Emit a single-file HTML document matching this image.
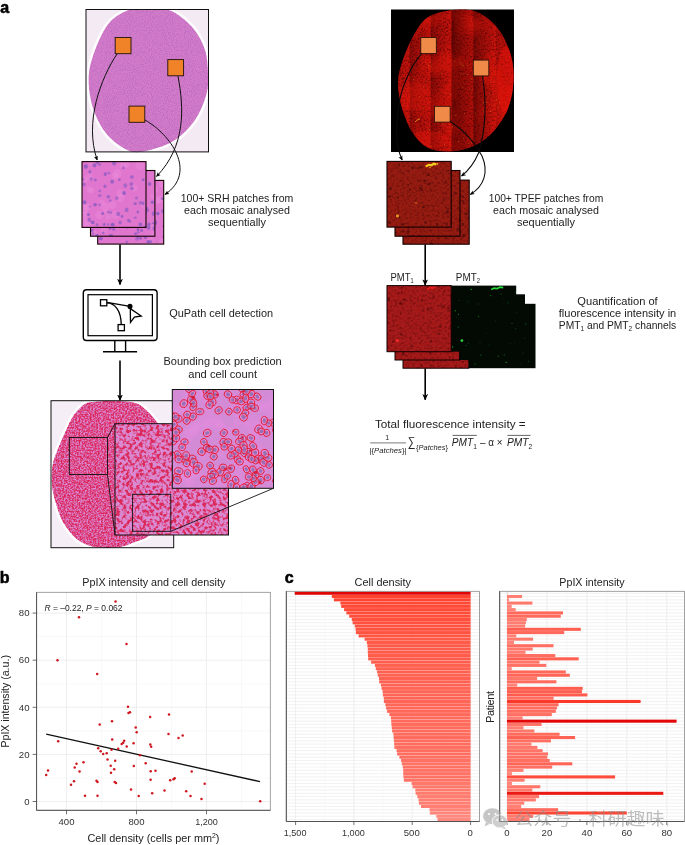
<!DOCTYPE html>
<html><head><meta charset="utf-8"><title>Figure</title>
<style>
html,body{margin:0;padding:0;background:#fff;}
body{width:685px;height:845px;overflow:hidden;position:relative;font-family:'Liberation Sans', 'Noto Sans CJK SC', sans-serif;}
svg{position:absolute;left:0;top:0;display:block;}
svg text{font-family:'Liberation Sans', 'Noto Sans CJK SC', sans-serif;}
</style></head><body>
<svg width="685" height="845" viewBox="0 0 685 845">
<defs>
<marker id="ah" viewBox="0 0 10 10" refX="9" refY="5" markerWidth="6.4" markerHeight="6.4" markerUnits="userSpaceOnUse" orient="auto"><path d="M0,0.5 L10,5 L0,9.5 L2.5,5 Z" fill="#000"/></marker>
<marker id="ahs" viewBox="0 0 10 10" refX="9" refY="5" markerWidth="4.6" markerHeight="4.6" markerUnits="userSpaceOnUse" orient="auto"><path d="M0,0.5 L10,5 L0,9.5 L2.5,5 Z" fill="#000"/></marker>
<filter id="nzA" x="0" y="0" width="100%" height="100%" color-interpolation-filters="sRGB"><feTurbulence type="fractalNoise" baseFrequency="0.95" numOctaves="2" seed="3"/><feColorMatrix type="matrix" values="0 0 0 0 0.66  0 0 0 0 0.34  0 0 0 0 0.72  3 0 0 0 -1.25"/></filter>
<filter id="nzA2" x="0" y="0" width="100%" height="100%" color-interpolation-filters="sRGB"><feTurbulence type="fractalNoise" baseFrequency="0.06" numOctaves="2" seed="9"/><feColorMatrix type="matrix" values="0 0 0 0 0.93  0 0 0 0 0.55  0 0 0 0 0.88  3 0 0 0 -1.3"/></filter>
<filter id="nzR" x="0" y="0" width="100%" height="100%" color-interpolation-filters="sRGB"><feTurbulence type="fractalNoise" baseFrequency="0.55" numOctaves="3" seed="5"/><feColorMatrix type="matrix" values="0 0 0 0 0.25  0 0 0 0 0  0 0 0 0 0  3.5 0 0 0 -1.6"/></filter>
<filter id="nzRb" x="0" y="0" width="100%" height="100%" color-interpolation-filters="sRGB"><feTurbulence type="fractalNoise" baseFrequency="0.035" numOctaves="2" seed="14"/><feColorMatrix type="matrix" values="0 0 0 0 0.95  0 0 0 0 0.1  0 0 0 0 0.05  4 0 0 0 -1.7"/></filter>
<filter id="nzR2" x="0" y="0" width="100%" height="100%" color-interpolation-filters="sRGB"><feTurbulence type="fractalNoise" baseFrequency="0.4" numOctaves="3" seed="11"/><feColorMatrix type="matrix" values="0 0 0 0 0.28  0 0 0 0 0.02  0 0 0 0 0.02  2.6 0 0 0 -1.2"/></filter>
<filter id="nzD" x="0" y="0" width="100%" height="100%" color-interpolation-filters="sRGB"><feTurbulence type="fractalNoise" baseFrequency="0.62" numOctaves="3" seed="8"/><feColorMatrix type="matrix" values="0 0 0 0 0.86  0 0 0 0 0.15  0 0 0 0 0.35  2.6 0 0 0 -0.74"/><feGaussianBlur stdDeviation="0.45"/></filter>
<filter id="nzD2" x="0" y="0" width="100%" height="100%" color-interpolation-filters="sRGB"><feTurbulence type="fractalNoise" baseFrequency="0.30" numOctaves="2" seed="21"/><feColorMatrix type="matrix" values="0 0 0 0 0.86  0 0 0 0 0.16  0 0 0 0 0.35  5 0 0 0 -2.2"/><feGaussianBlur stdDeviation="0.55"/></filter>
<linearGradient id="bandg" x1="0" y1="0" x2="1" y2="0"><stop offset="0" stop-color="#2a0000" stop-opacity="1"/><stop offset="0.25" stop-color="#2a0000" stop-opacity="0.6"/><stop offset="0.9" stop-color="#2a0000" stop-opacity="0"/></linearGradient>
<clipPath id="cpA"><path id="blobA" d="M127.5,10.5 C133.8,7.9 137.9,9.5 145.0,9.5 C152.1,9.5 162.1,7.5 170.0,10.5 C177.9,13.5 186.7,20.9 192.5,27.5 C198.3,34.1 202.4,42.1 205.0,50.0 C207.6,57.9 207.8,67.5 208.0,75.0 C208.2,82.5 208.4,87.5 206.2,95.0 C204.0,102.5 200.2,112.5 195.0,120.0 C189.8,127.5 182.5,135.0 175.0,140.0 C167.5,145.0 157.5,148.1 150.0,150.0 C142.5,151.9 137.1,153.7 130.0,151.2 C122.9,148.7 113.5,141.9 107.5,135.0 C101.5,128.1 96.8,118.8 93.7,110.0 C90.6,101.2 88.9,91.2 88.7,82.5 C88.5,73.8 89.4,67.1 92.5,57.5 C95.6,47.9 101.7,32.8 107.5,25.0 C113.3,17.2 121.2,13.1 127.5,10.5 Z"/></clipPath>
<clipPath id="cpBoxA"><rect x="86" y="9.5" width="122.5" height="142.4"/></clipPath>
<clipPath id="cpR"><path id="blobR" d="M452.5,10.0 C460.4,8.9 468.3,9.1 475.0,11.2 C481.7,13.3 487.5,17.7 492.5,22.5 C497.5,27.3 501.7,33.3 505.0,40.0 C508.3,46.7 511.2,54.6 512.5,62.5 C513.8,70.4 514.0,79.2 513.0,87.5 C511.9,95.8 510.0,104.6 506.2,112.5 C502.4,120.4 496.0,129.2 490.0,135.0 C484.0,140.8 477.1,144.8 470.0,147.5 C462.9,150.2 454.6,151.5 447.5,151.5 C440.4,151.5 433.3,150.7 427.5,147.5 C421.7,144.3 416.7,138.8 412.5,132.5 C408.3,126.2 404.9,117.9 402.5,110.0 C400.1,102.1 398.2,92.5 398.0,85.0 C397.8,77.5 398.8,72.9 401.2,65.0 C403.6,57.1 408.1,45.4 412.5,37.5 C416.9,29.6 420.8,22.1 427.5,17.5 C434.2,12.9 444.6,11.1 452.5,10.0 Z"/></clipPath>
<clipPath id="cpBoxR"><rect x="391" y="9.5" width="123" height="142.5"/></clipPath>
<clipPath id="cpBoxD"><rect x="51" y="400.7" width="122.7" height="147"/></clipPath>
<clipPath id="cpD"><path id="blobD" d="M92.3,402.0 C97.5,401.3 106.9,400.8 114.0,401.0 C121.1,401.2 129.7,401.5 135.0,403.0 C140.3,404.5 142.5,407.0 146.0,410.0 C149.5,413.0 152.0,416.0 156.0,421.0 C160.0,426.0 166.2,432.7 170.0,440.0 C173.8,447.3 177.7,456.3 179.0,465.0 C180.3,473.7 179.8,483.5 178.0,492.0 C176.2,500.5 172.7,508.8 168.0,516.0 C163.3,523.2 155.5,530.7 150.0,535.0 C144.5,539.3 139.7,540.1 135.0,542.0 C130.3,543.9 126.6,545.5 122.0,546.5 C117.4,547.5 112.5,548.0 107.5,548.0 C102.5,548.0 97.0,547.7 92.3,546.5 C87.6,545.3 82.9,543.3 79.1,540.8 C75.3,538.3 72.4,534.9 69.6,531.4 C66.8,527.9 64.2,524.4 62.0,520.0 C59.8,515.6 58.0,509.9 56.4,504.8 C54.8,499.8 53.4,494.8 52.6,489.7 C51.8,484.6 51.6,479.2 51.8,474.5 C51.9,469.8 52.3,466.0 53.5,461.3 C54.7,456.6 57.2,451.2 59.2,446.1 C61.2,441.1 63.4,436.1 65.8,431.0 C68.2,425.9 70.6,420.1 73.4,415.8 C76.2,411.5 79.8,407.7 82.9,405.4 C86.1,403.1 87.1,402.7 92.3,402.0 Z"/></clipPath>
<clipPath id="cpM"><rect x="115" y="423.7" width="113.5" height="111.3"/></clipPath>
<clipPath id="cpT"><rect x="172.3" y="389.5" width="101.2" height="98.8"/></clipPath>
</defs>

<text x="0.3" y="12.8" font-size="16" text-anchor="start" fill="#000" font-weight="bold" stroke="#000" stroke-width="0.55">a</text>
<text x="-0.3" y="583.2" font-size="16" text-anchor="start" fill="#000" font-weight="bold" stroke="#000" stroke-width="0.55">b</text>
<text x="284.8" y="583.2" font-size="16" text-anchor="start" fill="#000" font-weight="bold" stroke="#000" stroke-width="0.55">c</text>
<g id="srh-mosaic">
<rect x="86" y="9.5" width="122.5" height="142.4" fill="#f4eaf4"/>
<g clip-path="url(#cpBoxA)"><use href="#blobA" fill="none" stroke="#fff" stroke-width="5" opacity="0.9"/>
<use href="#blobA" fill="#d37dca"/></g>
<g clip-path="url(#cpA)"><rect x="86" y="9" width="124" height="144" filter="url(#nzA)" opacity="0.45"/></g>
<rect x="86" y="9.5" width="122.5" height="142.4" fill="none" stroke="#111" stroke-width="1"/>
<rect x="115.2" y="37.5" width="15.8" height="16.2" fill="#f08228" stroke="#201008" stroke-width="0.9"/>
<rect x="167.8" y="59.6" width="15.8" height="16.2" fill="#f08228" stroke="#201008" stroke-width="0.9"/>
<rect x="129" y="106.1" width="15.8" height="16.2" fill="#f08228" stroke="#201008" stroke-width="0.9"/>
</g>
<g fill="none" stroke="#111" stroke-width="1">
<path d="M117,54 C101,78 84,122 97.2,160" marker-end="url(#ahs)"/>
<path d="M178,76.2 C184,108 186,146 156.5,176.5" marker-end="url(#ahs)"/>
<path d="M145,120 C170,134 198,172 165,194.5" marker-end="url(#ahs)"/>
</g>
<g id="srh-patches">
<clipPath id="cpS0"><rect x="97.7" y="180.4" width="66.0" height="63.7"/></clipPath>
<rect x="97.7" y="180.4" width="66.0" height="63.7" fill="#e176cf"/>
<g clip-path="url(#cpS0)">
<circle cx="135.4" cy="207.7" r="3.9" fill="#ec8fdc" opacity="0.4"/>
<circle cx="111.3" cy="232.2" r="4.6" fill="#ec8fdc" opacity="0.4"/>
<circle cx="140.8" cy="190.6" r="3.8" fill="#ec8fdc" opacity="0.4"/>
<circle cx="119.3" cy="196.3" r="4.9" fill="#ec8fdc" opacity="0.4"/>
<circle cx="163.5" cy="183.2" r="4.7" fill="#ec8fdc" opacity="0.4"/>
<circle cx="137.5" cy="204.7" r="3.2" fill="#ec8fdc" opacity="0.4"/>
<circle cx="142.2" cy="209.5" r="4.2" fill="#ec8fdc" opacity="0.4"/>
<circle cx="141.4" cy="188.9" r="4.4" fill="#ec8fdc" opacity="0.4"/>
<circle cx="162.5" cy="242.2" r="4.0" fill="#ec8fdc" opacity="0.4"/>
<circle cx="100.6" cy="180.7" r="2.8" fill="#ec8fdc" opacity="0.4"/>
<circle cx="159.8" cy="199.7" r="3.4" fill="#ec8fdc" opacity="0.4"/>
<circle cx="157.0" cy="200.4" r="3.9" fill="#ec8fdc" opacity="0.4"/>
<circle cx="126.5" cy="184.5" r="4.0" fill="#ec8fdc" opacity="0.4"/>
<circle cx="153.4" cy="190.4" r="3.1" fill="#ec8fdc" opacity="0.4"/>
<circle cx="124.9" cy="182.8" r="3.7" fill="#ec8fdc" opacity="0.4"/>
<circle cx="151.7" cy="222.3" r="3.8" fill="#ec8fdc" opacity="0.4"/>
<circle cx="154.1" cy="189.9" r="3.9" fill="#ec8fdc" opacity="0.4"/>
<circle cx="122.4" cy="218.7" r="2.8" fill="#ec8fdc" opacity="0.4"/>
<circle cx="148.9" cy="186.6" r="2.9" fill="#ec8fdc" opacity="0.4"/>
<circle cx="151.0" cy="240.8" r="3.6" fill="#ec8fdc" opacity="0.4"/>
<circle cx="125.0" cy="196.0" r="3.2" fill="#ec8fdc" opacity="0.4"/>
<circle cx="138.4" cy="191.8" r="2.8" fill="#ec8fdc" opacity="0.4"/>
<circle cx="127.8" cy="190.9" r="4.1" fill="#ec8fdc" opacity="0.4"/>
<circle cx="151.9" cy="229.9" r="3.7" fill="#ec8fdc" opacity="0.4"/>
<circle cx="120.6" cy="208.1" r="2.5" fill="#ec8fdc" opacity="0.4"/>
<circle cx="144.7" cy="201.5" r="3.3" fill="#ec8fdc" opacity="0.4"/>
<ellipse cx="103.0" cy="208.9" rx="1.9" ry="2.0" fill="#8c5cc2" opacity="0.65"/>
<ellipse cx="136.2" cy="205.3" rx="1.4" ry="1.2" fill="#8c5cc2" opacity="0.58"/>
<ellipse cx="155.1" cy="223.3" rx="1.9" ry="2.3" fill="#8c5cc2" opacity="0.63"/>
<ellipse cx="113.6" cy="213.9" rx="1.9" ry="2.3" fill="#8c5cc2" opacity="0.62"/>
<ellipse cx="157.8" cy="213.5" rx="1.7" ry="1.7" fill="#8c5cc2" opacity="0.89"/>
<ellipse cx="137.4" cy="184.4" rx="2.0" ry="1.6" fill="#8c5cc2" opacity="0.62"/>
<ellipse cx="130.0" cy="209.8" rx="2.0" ry="2.1" fill="#8c5cc2" opacity="0.73"/>
<ellipse cx="124.2" cy="207.2" rx="1.9" ry="2.2" fill="#8c5cc2" opacity="0.88"/>
<ellipse cx="136.3" cy="214.7" rx="1.5" ry="1.2" fill="#8c5cc2" opacity="0.79"/>
<ellipse cx="130.0" cy="191.0" rx="1.2" ry="1.3" fill="#8c5cc2" opacity="0.85"/>
<ellipse cx="126.8" cy="242.1" rx="1.6" ry="1.7" fill="#8c5cc2" opacity="0.61"/>
<ellipse cx="125.1" cy="182.6" rx="1.3" ry="1.4" fill="#8c5cc2" opacity="0.85"/>
<ellipse cx="97.9" cy="214.5" rx="2.1" ry="1.7" fill="#8c5cc2" opacity="0.87"/>
<ellipse cx="101.0" cy="186.3" rx="1.7" ry="1.6" fill="#8c5cc2" opacity="0.69"/>
<ellipse cx="104.9" cy="209.3" rx="1.7" ry="1.6" fill="#8c5cc2" opacity="0.60"/>
<ellipse cx="163.2" cy="211.3" rx="2.0" ry="2.2" fill="#8c5cc2" opacity="0.76"/>
<ellipse cx="128.0" cy="208.2" rx="1.9" ry="2.3" fill="#8c5cc2" opacity="0.61"/>
<ellipse cx="130.8" cy="208.9" rx="1.9" ry="2.3" fill="#8c5cc2" opacity="0.67"/>
<ellipse cx="145.6" cy="237.6" rx="1.7" ry="1.7" fill="#8c5cc2" opacity="0.62"/>
<ellipse cx="143.8" cy="207.4" rx="1.6" ry="1.4" fill="#8c5cc2" opacity="0.88"/>
<ellipse cx="140.6" cy="238.3" rx="1.4" ry="1.5" fill="#8c5cc2" opacity="0.75"/>
<ellipse cx="107.8" cy="195.5" rx="2.1" ry="2.4" fill="#8c5cc2" opacity="0.68"/>
<ellipse cx="138.6" cy="224.2" rx="1.5" ry="1.3" fill="#8c5cc2" opacity="0.57"/>
<ellipse cx="140.1" cy="217.9" rx="1.5" ry="1.8" fill="#8c5cc2" opacity="0.57"/>
<ellipse cx="152.4" cy="210.9" rx="1.4" ry="1.5" fill="#8c5cc2" opacity="0.68"/>
<ellipse cx="151.0" cy="241.7" rx="1.4" ry="1.7" fill="#8c5cc2" opacity="0.56"/>
<ellipse cx="126.4" cy="235.1" rx="1.7" ry="1.7" fill="#8c5cc2" opacity="0.67"/>
<ellipse cx="145.1" cy="237.0" rx="1.4" ry="1.2" fill="#8c5cc2" opacity="0.69"/>
<ellipse cx="100.8" cy="238.6" rx="1.9" ry="1.9" fill="#8c5cc2" opacity="0.82"/>
<ellipse cx="148.3" cy="241.7" rx="2.0" ry="1.7" fill="#8c5cc2" opacity="0.86"/>
<ellipse cx="162.5" cy="198.6" rx="1.7" ry="1.7" fill="#8c5cc2" opacity="0.73"/>
<ellipse cx="141.9" cy="189.4" rx="2.0" ry="2.0" fill="#8c5cc2" opacity="0.58"/>
<ellipse cx="137.0" cy="239.0" rx="2.1" ry="1.8" fill="#8c5cc2" opacity="0.59"/>
<ellipse cx="110.4" cy="202.7" rx="1.8" ry="1.7" fill="#8c5cc2" opacity="0.65"/>
<ellipse cx="103.0" cy="192.8" rx="1.8" ry="2.1" fill="#8c5cc2" opacity="0.67"/>
<ellipse cx="111.4" cy="186.5" rx="2.0" ry="2.2" fill="#8c5cc2" opacity="0.76"/>
<ellipse cx="163.7" cy="236.9" rx="1.7" ry="1.4" fill="#8c5cc2" opacity="0.61"/>
<ellipse cx="128.3" cy="227.8" rx="1.8" ry="2.0" fill="#8c5cc2" opacity="0.58"/>
<ellipse cx="143.6" cy="213.7" rx="1.8" ry="1.8" fill="#8c5cc2" opacity="0.75"/>
<ellipse cx="125.7" cy="222.7" rx="1.6" ry="1.4" fill="#8c5cc2" opacity="0.67"/>
<ellipse cx="134.4" cy="197.3" rx="2.1" ry="1.8" fill="#8c5cc2" opacity="0.85"/>
<ellipse cx="121.7" cy="220.4" rx="1.7" ry="1.4" fill="#8c5cc2" opacity="0.83"/>
<ellipse cx="139.1" cy="193.8" rx="1.2" ry="1.4" fill="#8c5cc2" opacity="0.67"/>
<ellipse cx="137.9" cy="236.1" rx="2.0" ry="2.3" fill="#8c5cc2" opacity="0.68"/>
<ellipse cx="155.2" cy="221.9" rx="1.8" ry="2.2" fill="#8c5cc2" opacity="0.61"/>
<ellipse cx="102.3" cy="207.4" rx="1.4" ry="1.3" fill="#8c5cc2" opacity="0.84"/>
<ellipse cx="103.6" cy="183.9" rx="1.4" ry="1.3" fill="#8c5cc2" opacity="0.77"/>
<ellipse cx="114.5" cy="209.5" rx="1.7" ry="1.7" fill="#8c5cc2" opacity="0.74"/>
<ellipse cx="147.8" cy="220.5" rx="1.2" ry="1.0" fill="#8c5cc2" opacity="0.56"/>
<ellipse cx="116.3" cy="224.7" rx="1.2" ry="1.4" fill="#8c5cc2" opacity="0.89"/>
<ellipse cx="131.1" cy="212.7" rx="1.3" ry="1.3" fill="#8c5cc2" opacity="0.56"/>
<ellipse cx="115.1" cy="208.5" rx="1.6" ry="1.7" fill="#8c5cc2" opacity="0.77"/>
<ellipse cx="120.2" cy="226.7" rx="2.0" ry="2.1" fill="#8c5cc2" opacity="0.57"/>
<ellipse cx="129.6" cy="208.9" rx="1.5" ry="1.5" fill="#8c5cc2" opacity="0.67"/>
<ellipse cx="129.2" cy="211.0" rx="1.2" ry="1.3" fill="#8c5cc2" opacity="0.72"/>
<ellipse cx="143.2" cy="226.3" rx="1.8" ry="1.8" fill="#8c5cc2" opacity="0.57"/>
<ellipse cx="150.6" cy="206.2" rx="1.4" ry="1.3" fill="#8c5cc2" opacity="0.71"/>
<ellipse cx="150.1" cy="241.9" rx="1.3" ry="1.1" fill="#8c5cc2" opacity="0.73"/>
<ellipse cx="163.2" cy="226.3" rx="1.3" ry="1.1" fill="#8c5cc2" opacity="0.59"/>
<ellipse cx="102.0" cy="234.4" rx="1.8" ry="2.1" fill="#8c5cc2" opacity="0.83"/>
<ellipse cx="152.9" cy="181.4" rx="1.7" ry="1.9" fill="#8c5cc2" opacity="0.81"/>
<ellipse cx="119.3" cy="200.9" rx="1.6" ry="1.6" fill="#8c5cc2" opacity="0.80"/>
</g>
<rect x="97.7" y="180.4" width="66.0" height="63.7" fill="none" stroke="#100" stroke-width="1.1"/>
<clipPath id="cpS1"><rect x="90.5" y="170.5" width="64.4" height="65.7"/></clipPath>
<rect x="90.5" y="170.5" width="64.4" height="65.7" fill="#e176cf"/>
<g clip-path="url(#cpS1)">
<circle cx="119.6" cy="207.3" r="4.8" fill="#ec8fdc" opacity="0.4"/>
<circle cx="120.5" cy="203.9" r="4.0" fill="#ec8fdc" opacity="0.4"/>
<circle cx="102.4" cy="204.1" r="4.1" fill="#ec8fdc" opacity="0.4"/>
<circle cx="141.6" cy="176.7" r="3.3" fill="#ec8fdc" opacity="0.4"/>
<circle cx="96.3" cy="223.7" r="4.2" fill="#ec8fdc" opacity="0.4"/>
<circle cx="93.2" cy="235.0" r="4.9" fill="#ec8fdc" opacity="0.4"/>
<circle cx="132.6" cy="210.9" r="2.9" fill="#ec8fdc" opacity="0.4"/>
<circle cx="91.5" cy="205.2" r="2.6" fill="#ec8fdc" opacity="0.4"/>
<circle cx="102.7" cy="186.4" r="2.6" fill="#ec8fdc" opacity="0.4"/>
<circle cx="120.4" cy="199.4" r="4.6" fill="#ec8fdc" opacity="0.4"/>
<circle cx="123.9" cy="212.6" r="3.7" fill="#ec8fdc" opacity="0.4"/>
<circle cx="133.2" cy="200.5" r="3.2" fill="#ec8fdc" opacity="0.4"/>
<circle cx="154.7" cy="235.9" r="4.6" fill="#ec8fdc" opacity="0.4"/>
<circle cx="136.1" cy="191.2" r="3.1" fill="#ec8fdc" opacity="0.4"/>
<circle cx="109.1" cy="175.1" r="4.4" fill="#ec8fdc" opacity="0.4"/>
<circle cx="116.3" cy="226.1" r="3.5" fill="#ec8fdc" opacity="0.4"/>
<circle cx="152.2" cy="226.2" r="2.5" fill="#ec8fdc" opacity="0.4"/>
<circle cx="104.0" cy="230.3" r="3.7" fill="#ec8fdc" opacity="0.4"/>
<circle cx="153.6" cy="196.6" r="2.7" fill="#ec8fdc" opacity="0.4"/>
<circle cx="131.0" cy="221.6" r="3.2" fill="#ec8fdc" opacity="0.4"/>
<circle cx="96.1" cy="192.4" r="4.9" fill="#ec8fdc" opacity="0.4"/>
<circle cx="139.3" cy="178.3" r="3.1" fill="#ec8fdc" opacity="0.4"/>
<circle cx="97.0" cy="174.4" r="4.5" fill="#ec8fdc" opacity="0.4"/>
<circle cx="101.9" cy="207.2" r="3.6" fill="#ec8fdc" opacity="0.4"/>
<circle cx="102.8" cy="218.6" r="2.8" fill="#ec8fdc" opacity="0.4"/>
<circle cx="132.0" cy="178.2" r="3.6" fill="#ec8fdc" opacity="0.4"/>
<ellipse cx="104.2" cy="188.2" rx="1.8" ry="2.1" fill="#8c5cc2" opacity="0.64"/>
<ellipse cx="153.0" cy="223.3" rx="1.2" ry="1.1" fill="#8c5cc2" opacity="0.79"/>
<ellipse cx="110.1" cy="228.6" rx="1.4" ry="1.2" fill="#8c5cc2" opacity="0.87"/>
<ellipse cx="104.1" cy="196.4" rx="1.8" ry="1.8" fill="#8c5cc2" opacity="0.86"/>
<ellipse cx="145.5" cy="212.7" rx="1.5" ry="1.6" fill="#8c5cc2" opacity="0.62"/>
<ellipse cx="97.0" cy="235.5" rx="1.6" ry="1.8" fill="#8c5cc2" opacity="0.87"/>
<ellipse cx="104.2" cy="187.5" rx="2.0" ry="1.9" fill="#8c5cc2" opacity="0.75"/>
<ellipse cx="140.3" cy="192.1" rx="1.5" ry="1.3" fill="#8c5cc2" opacity="0.72"/>
<ellipse cx="109.6" cy="175.3" rx="2.0" ry="2.3" fill="#8c5cc2" opacity="0.80"/>
<ellipse cx="96.3" cy="208.8" rx="2.1" ry="1.9" fill="#8c5cc2" opacity="0.61"/>
<ellipse cx="106.2" cy="210.0" rx="1.6" ry="1.5" fill="#8c5cc2" opacity="0.62"/>
<ellipse cx="114.4" cy="200.3" rx="1.6" ry="1.7" fill="#8c5cc2" opacity="0.72"/>
<ellipse cx="152.3" cy="202.3" rx="1.5" ry="1.7" fill="#8c5cc2" opacity="0.89"/>
<ellipse cx="127.5" cy="227.4" rx="1.6" ry="1.3" fill="#8c5cc2" opacity="0.56"/>
<ellipse cx="102.3" cy="180.6" rx="2.0" ry="1.6" fill="#8c5cc2" opacity="0.80"/>
<ellipse cx="149.0" cy="224.2" rx="1.7" ry="1.6" fill="#8c5cc2" opacity="0.83"/>
<ellipse cx="106.6" cy="183.0" rx="1.2" ry="1.0" fill="#8c5cc2" opacity="0.71"/>
<ellipse cx="138.1" cy="232.3" rx="1.2" ry="1.4" fill="#8c5cc2" opacity="0.63"/>
<ellipse cx="103.2" cy="232.9" rx="1.3" ry="1.1" fill="#8c5cc2" opacity="0.77"/>
<ellipse cx="147.3" cy="210.2" rx="1.6" ry="1.7" fill="#8c5cc2" opacity="0.78"/>
<ellipse cx="117.6" cy="177.3" rx="1.9" ry="2.4" fill="#8c5cc2" opacity="0.79"/>
<ellipse cx="93.0" cy="233.7" rx="1.4" ry="1.4" fill="#8c5cc2" opacity="0.61"/>
<ellipse cx="105.9" cy="216.8" rx="1.2" ry="1.2" fill="#8c5cc2" opacity="0.80"/>
<ellipse cx="107.0" cy="224.6" rx="1.4" ry="1.3" fill="#8c5cc2" opacity="0.67"/>
<ellipse cx="128.9" cy="189.8" rx="1.8" ry="1.9" fill="#8c5cc2" opacity="0.77"/>
<ellipse cx="101.8" cy="217.8" rx="1.9" ry="1.8" fill="#8c5cc2" opacity="0.83"/>
<ellipse cx="94.9" cy="185.5" rx="2.0" ry="1.7" fill="#8c5cc2" opacity="0.88"/>
<ellipse cx="126.5" cy="226.5" rx="1.9" ry="1.6" fill="#8c5cc2" opacity="0.71"/>
<ellipse cx="130.1" cy="188.9" rx="1.8" ry="2.1" fill="#8c5cc2" opacity="0.68"/>
<ellipse cx="149.6" cy="183.9" rx="1.7" ry="2.0" fill="#8c5cc2" opacity="0.83"/>
<ellipse cx="91.6" cy="188.2" rx="2.0" ry="2.1" fill="#8c5cc2" opacity="0.78"/>
<ellipse cx="119.2" cy="174.5" rx="1.4" ry="1.6" fill="#8c5cc2" opacity="0.84"/>
<ellipse cx="101.9" cy="194.7" rx="1.8" ry="2.0" fill="#8c5cc2" opacity="0.62"/>
<ellipse cx="127.3" cy="179.1" rx="2.0" ry="2.5" fill="#8c5cc2" opacity="0.89"/>
<ellipse cx="113.8" cy="229.0" rx="1.7" ry="1.9" fill="#8c5cc2" opacity="0.66"/>
<ellipse cx="153.6" cy="213.7" rx="2.0" ry="2.4" fill="#8c5cc2" opacity="0.67"/>
<ellipse cx="135.0" cy="208.9" rx="1.3" ry="1.3" fill="#8c5cc2" opacity="0.74"/>
<ellipse cx="99.5" cy="172.8" rx="1.9" ry="1.9" fill="#8c5cc2" opacity="0.56"/>
<ellipse cx="91.7" cy="230.3" rx="1.9" ry="1.6" fill="#8c5cc2" opacity="0.83"/>
<ellipse cx="135.6" cy="233.8" rx="1.4" ry="1.3" fill="#8c5cc2" opacity="0.83"/>
<ellipse cx="91.9" cy="212.3" rx="1.3" ry="1.1" fill="#8c5cc2" opacity="0.73"/>
<ellipse cx="121.6" cy="218.5" rx="1.9" ry="2.2" fill="#8c5cc2" opacity="0.79"/>
<ellipse cx="111.0" cy="236.2" rx="2.1" ry="2.1" fill="#8c5cc2" opacity="0.88"/>
<ellipse cx="95.3" cy="206.4" rx="1.3" ry="1.1" fill="#8c5cc2" opacity="0.73"/>
<ellipse cx="138.0" cy="229.6" rx="1.5" ry="1.6" fill="#8c5cc2" opacity="0.77"/>
<ellipse cx="138.0" cy="216.7" rx="1.7" ry="2.0" fill="#8c5cc2" opacity="0.75"/>
<ellipse cx="141.6" cy="230.6" rx="1.5" ry="1.4" fill="#8c5cc2" opacity="0.85"/>
<ellipse cx="113.2" cy="215.5" rx="2.0" ry="1.8" fill="#8c5cc2" opacity="0.85"/>
<ellipse cx="148.5" cy="227.7" rx="2.1" ry="2.1" fill="#8c5cc2" opacity="0.75"/>
<ellipse cx="117.4" cy="222.4" rx="1.4" ry="1.4" fill="#8c5cc2" opacity="0.73"/>
<ellipse cx="146.1" cy="208.1" rx="1.7" ry="1.4" fill="#8c5cc2" opacity="0.89"/>
<ellipse cx="130.7" cy="195.6" rx="1.7" ry="1.6" fill="#8c5cc2" opacity="0.83"/>
<ellipse cx="128.0" cy="210.5" rx="1.7" ry="1.7" fill="#8c5cc2" opacity="0.79"/>
<ellipse cx="95.7" cy="212.5" rx="1.3" ry="1.3" fill="#8c5cc2" opacity="0.69"/>
<ellipse cx="154.5" cy="228.3" rx="2.1" ry="2.5" fill="#8c5cc2" opacity="0.64"/>
<ellipse cx="137.4" cy="196.0" rx="1.6" ry="1.4" fill="#8c5cc2" opacity="0.70"/>
<ellipse cx="137.8" cy="208.7" rx="1.9" ry="2.3" fill="#8c5cc2" opacity="0.72"/>
<ellipse cx="118.9" cy="225.6" rx="1.5" ry="1.3" fill="#8c5cc2" opacity="0.77"/>
<ellipse cx="95.9" cy="219.8" rx="2.0" ry="1.7" fill="#8c5cc2" opacity="0.82"/>
<ellipse cx="92.4" cy="210.0" rx="1.2" ry="1.1" fill="#8c5cc2" opacity="0.63"/>
<ellipse cx="121.5" cy="185.6" rx="1.8" ry="1.7" fill="#8c5cc2" opacity="0.67"/>
<ellipse cx="135.5" cy="203.2" rx="1.8" ry="1.5" fill="#8c5cc2" opacity="0.81"/>
</g>
<rect x="90.5" y="170.5" width="64.4" height="65.7" fill="none" stroke="#100" stroke-width="1.1"/>
<clipPath id="cpS2"><rect x="82" y="161.6" width="64" height="65.8"/></clipPath>
<rect x="82" y="161.6" width="64" height="65.8" fill="#e176cf"/>
<g clip-path="url(#cpS2)">
<circle cx="112.4" cy="204.9" r="4.2" fill="#ec8fdc" opacity="0.4"/>
<circle cx="91.1" cy="162.3" r="3.4" fill="#ec8fdc" opacity="0.4"/>
<circle cx="99.5" cy="214.9" r="4.2" fill="#ec8fdc" opacity="0.4"/>
<circle cx="120.5" cy="198.3" r="4.2" fill="#ec8fdc" opacity="0.4"/>
<circle cx="91.3" cy="190.6" r="2.9" fill="#ec8fdc" opacity="0.4"/>
<circle cx="140.0" cy="165.5" r="4.5" fill="#ec8fdc" opacity="0.4"/>
<circle cx="86.8" cy="206.8" r="3.3" fill="#ec8fdc" opacity="0.4"/>
<circle cx="107.9" cy="217.0" r="2.5" fill="#ec8fdc" opacity="0.4"/>
<circle cx="85.9" cy="221.8" r="3.8" fill="#ec8fdc" opacity="0.4"/>
<circle cx="87.8" cy="226.6" r="4.9" fill="#ec8fdc" opacity="0.4"/>
<circle cx="89.2" cy="189.4" r="2.8" fill="#ec8fdc" opacity="0.4"/>
<circle cx="102.0" cy="202.5" r="2.9" fill="#ec8fdc" opacity="0.4"/>
<circle cx="126.6" cy="165.0" r="2.9" fill="#ec8fdc" opacity="0.4"/>
<circle cx="134.2" cy="188.0" r="3.5" fill="#ec8fdc" opacity="0.4"/>
<circle cx="120.1" cy="193.0" r="3.5" fill="#ec8fdc" opacity="0.4"/>
<circle cx="84.0" cy="209.4" r="4.9" fill="#ec8fdc" opacity="0.4"/>
<circle cx="144.5" cy="205.3" r="3.4" fill="#ec8fdc" opacity="0.4"/>
<circle cx="105.2" cy="207.0" r="4.2" fill="#ec8fdc" opacity="0.4"/>
<circle cx="89.3" cy="177.1" r="3.4" fill="#ec8fdc" opacity="0.4"/>
<circle cx="114.7" cy="214.9" r="3.8" fill="#ec8fdc" opacity="0.4"/>
<circle cx="83.8" cy="215.7" r="3.6" fill="#ec8fdc" opacity="0.4"/>
<circle cx="115.2" cy="176.2" r="3.6" fill="#ec8fdc" opacity="0.4"/>
<circle cx="106.8" cy="212.4" r="2.8" fill="#ec8fdc" opacity="0.4"/>
<circle cx="117.2" cy="173.3" r="4.2" fill="#ec8fdc" opacity="0.4"/>
<circle cx="84.4" cy="179.8" r="3.4" fill="#ec8fdc" opacity="0.4"/>
<circle cx="122.8" cy="165.0" r="3.6" fill="#ec8fdc" opacity="0.4"/>
<ellipse cx="95.4" cy="180.1" rx="1.4" ry="1.5" fill="#8c5cc2" opacity="0.72"/>
<ellipse cx="112.5" cy="224.7" rx="1.8" ry="1.6" fill="#8c5cc2" opacity="0.88"/>
<ellipse cx="112.8" cy="224.5" rx="2.0" ry="1.8" fill="#8c5cc2" opacity="0.65"/>
<ellipse cx="92.7" cy="222.4" rx="2.0" ry="1.8" fill="#8c5cc2" opacity="0.88"/>
<ellipse cx="105.3" cy="174.1" rx="1.7" ry="1.9" fill="#8c5cc2" opacity="0.80"/>
<ellipse cx="129.9" cy="221.6" rx="1.4" ry="1.3" fill="#8c5cc2" opacity="0.64"/>
<ellipse cx="82.4" cy="179.3" rx="1.8" ry="2.0" fill="#8c5cc2" opacity="0.60"/>
<ellipse cx="131.3" cy="184.1" rx="2.0" ry="2.0" fill="#8c5cc2" opacity="0.63"/>
<ellipse cx="97.5" cy="162.2" rx="1.6" ry="2.0" fill="#8c5cc2" opacity="0.75"/>
<ellipse cx="84.6" cy="202.3" rx="1.8" ry="2.1" fill="#8c5cc2" opacity="0.89"/>
<ellipse cx="145.0" cy="227.3" rx="1.9" ry="1.9" fill="#8c5cc2" opacity="0.76"/>
<ellipse cx="114.2" cy="163.2" rx="2.0" ry="2.3" fill="#8c5cc2" opacity="0.75"/>
<ellipse cx="102.6" cy="213.4" rx="1.5" ry="1.5" fill="#8c5cc2" opacity="0.81"/>
<ellipse cx="135.2" cy="203.7" rx="1.7" ry="1.4" fill="#8c5cc2" opacity="0.80"/>
<ellipse cx="85.9" cy="166.6" rx="2.0" ry="2.3" fill="#8c5cc2" opacity="0.86"/>
<ellipse cx="94.5" cy="165.3" rx="2.0" ry="2.1" fill="#8c5cc2" opacity="0.83"/>
<ellipse cx="99.7" cy="164.6" rx="1.5" ry="1.3" fill="#8c5cc2" opacity="0.67"/>
<ellipse cx="89.9" cy="171.8" rx="1.5" ry="1.8" fill="#8c5cc2" opacity="0.79"/>
<ellipse cx="91.2" cy="179.1" rx="1.7" ry="1.8" fill="#8c5cc2" opacity="0.59"/>
<ellipse cx="83.9" cy="184.3" rx="1.7" ry="1.9" fill="#8c5cc2" opacity="0.69"/>
<ellipse cx="99.7" cy="190.9" rx="1.4" ry="1.4" fill="#8c5cc2" opacity="0.66"/>
<ellipse cx="99.7" cy="195.5" rx="1.8" ry="1.6" fill="#8c5cc2" opacity="0.58"/>
<ellipse cx="88.5" cy="214.5" rx="1.5" ry="1.6" fill="#8c5cc2" opacity="0.82"/>
<ellipse cx="89.2" cy="219.8" rx="1.8" ry="2.2" fill="#8c5cc2" opacity="0.68"/>
<ellipse cx="99.7" cy="204.7" rx="1.2" ry="1.3" fill="#8c5cc2" opacity="0.71"/>
<ellipse cx="97.1" cy="224.4" rx="1.4" ry="1.5" fill="#8c5cc2" opacity="0.67"/>
<ellipse cx="104.3" cy="224.4" rx="1.4" ry="1.3" fill="#8c5cc2" opacity="0.88"/>
<ellipse cx="108.3" cy="224.4" rx="1.2" ry="1.2" fill="#8c5cc2" opacity="0.65"/>
<ellipse cx="108.9" cy="173.1" rx="1.4" ry="1.4" fill="#8c5cc2" opacity="0.63"/>
<ellipse cx="112.2" cy="181.7" rx="2.0" ry="2.1" fill="#8c5cc2" opacity="0.79"/>
<ellipse cx="123.4" cy="167.9" rx="1.3" ry="1.4" fill="#8c5cc2" opacity="0.76"/>
<ellipse cx="131.9" cy="177.1" rx="2.0" ry="1.8" fill="#8c5cc2" opacity="0.71"/>
<ellipse cx="125.3" cy="185.6" rx="2.0" ry="2.3" fill="#8c5cc2" opacity="0.63"/>
<ellipse cx="131.9" cy="188.3" rx="1.7" ry="1.9" fill="#8c5cc2" opacity="0.69"/>
<ellipse cx="124.0" cy="192.9" rx="1.8" ry="2.0" fill="#8c5cc2" opacity="0.89"/>
<ellipse cx="116.8" cy="198.1" rx="1.7" ry="1.9" fill="#8c5cc2" opacity="0.67"/>
<ellipse cx="108.3" cy="196.8" rx="1.9" ry="1.8" fill="#8c5cc2" opacity="0.72"/>
<ellipse cx="110.2" cy="200.7" rx="1.5" ry="1.4" fill="#8c5cc2" opacity="0.60"/>
<ellipse cx="108.3" cy="211.9" rx="1.4" ry="1.5" fill="#8c5cc2" opacity="0.64"/>
<ellipse cx="110.9" cy="212.6" rx="1.2" ry="1.4" fill="#8c5cc2" opacity="0.65"/>
<ellipse cx="118.1" cy="213.9" rx="2.0" ry="2.2" fill="#8c5cc2" opacity="0.69"/>
<ellipse cx="126.6" cy="209.9" rx="2.0" ry="2.4" fill="#8c5cc2" opacity="0.66"/>
<ellipse cx="122.0" cy="216.5" rx="1.3" ry="1.4" fill="#8c5cc2" opacity="0.84"/>
<ellipse cx="120.1" cy="222.4" rx="1.7" ry="2.0" fill="#8c5cc2" opacity="0.69"/>
<ellipse cx="128.6" cy="220.4" rx="1.8" ry="1.6" fill="#8c5cc2" opacity="0.69"/>
<ellipse cx="136.5" cy="198.1" rx="1.5" ry="1.5" fill="#8c5cc2" opacity="0.69"/>
<ellipse cx="140.4" cy="202.7" rx="1.9" ry="1.7" fill="#8c5cc2" opacity="0.62"/>
<ellipse cx="143.1" cy="203.4" rx="1.4" ry="1.8" fill="#8c5cc2" opacity="0.73"/>
<ellipse cx="137.8" cy="211.9" rx="1.2" ry="1.5" fill="#8c5cc2" opacity="0.86"/>
<ellipse cx="140.4" cy="224.4" rx="1.9" ry="1.9" fill="#8c5cc2" opacity="0.81"/>
<ellipse cx="143.1" cy="179.7" rx="1.5" ry="1.3" fill="#8c5cc2" opacity="0.85"/>
<ellipse cx="95.1" cy="204.7" rx="1.9" ry="1.7" fill="#8c5cc2" opacity="0.86"/>
<ellipse cx="89.9" cy="206.6" rx="1.2" ry="1.1" fill="#8c5cc2" opacity="0.55"/>
<ellipse cx="119.4" cy="179.7" rx="1.4" ry="1.2" fill="#8c5cc2" opacity="0.80"/>
<ellipse cx="135.2" cy="217.8" rx="1.5" ry="1.3" fill="#8c5cc2" opacity="0.61"/>
<ellipse cx="105.0" cy="186.3" rx="1.5" ry="1.8" fill="#8c5cc2" opacity="0.76"/>
</g>
<rect x="82" y="161.6" width="64" height="65.8" fill="none" stroke="#100" stroke-width="1.1"/>
</g>
<text x="237" y="201.7" font-size="11" text-anchor="middle" fill="#222" textLength="112.5" lengthAdjust="spacingAndGlyphs" >100+ SRH patches from</text>
<text x="237" y="213.7" font-size="11" text-anchor="middle" fill="#222" textLength="105.8" lengthAdjust="spacingAndGlyphs" >each mosaic analysed</text>
<text x="237" y="225.6" font-size="11" text-anchor="middle" fill="#222" textLength="58" lengthAdjust="spacingAndGlyphs" >sequentially</text>
<g stroke="#000" stroke-width="1.6" fill="none">
<path d="M120,244.5 V284.6" marker-end="url(#ah)"/>
<path d="M120,360.5 V400.3" marker-end="url(#ah)"/>
<path d="M425.2,244.5 V285.2" marker-end="url(#ah)"/>
<path d="M425.2,368.5 V399.8" marker-end="url(#ah)"/>
</g>
<g id="monitor" fill="none" stroke="#000" stroke-width="1.4">
<rect x="83.3" y="289.7" width="73.8" height="50.8" rx="3.2"/>
<rect x="88" y="294.7" width="64.4" height="41" stroke-width="1.2"/>
<path d="M114.8,341 V351.8 M125.6,341 V351.8 M103,351.8 H137.1"/>
<g stroke-width="1.3"><path d="M106.9,302.4 L130,306.4"/><path d="M106.9,302.9 C115,303 121.1,311 121.2,324.5"/>
<rect x="100.5" y="299.7" width="6.3" height="6.1" fill="#fff"/><rect x="118.1" y="324.6" width="6.3" height="6.1" fill="#fff"/>
<circle cx="130" cy="306.4" r="1.9" fill="#000"/>
<path d="M130.3,308.6 L141.2,316 L134.4,317 L130.5,322.3 Z" fill="#fff" stroke-linejoin="miter"/></g>
</g>
<text x="221.2" y="317" font-size="11" text-anchor="middle" fill="#222" textLength="104" lengthAdjust="spacingAndGlyphs" >QuPath cell detection</text>
<text x="222.6" y="365" font-size="11" text-anchor="middle" fill="#222" textLength="118.2" lengthAdjust="spacingAndGlyphs" >Bounding box prediction</text>
<text x="222.6" y="377.5" font-size="11" text-anchor="middle" fill="#222" textLength="68.8" lengthAdjust="spacingAndGlyphs" >and cell count</text>
<g id="detect">
<rect x="51" y="400.7" width="122.7" height="147" fill="#f6eef6"/>
<g clip-path="url(#cpBoxD)"><use href="#blobD" fill="none" stroke="#fff" stroke-width="5"/><use href="#blobD" fill="#da8cd8"/></g>
<g clip-path="url(#cpBoxD)"><g clip-path="url(#cpD)"><rect x="50" y="400" width="140" height="150" filter="url(#nzD)"/></g></g>
<rect x="51" y="400.7" width="122.7" height="147" fill="none" stroke="#111" stroke-width="1"/>
<rect x="69.3" y="437.5" width="38.2" height="37" fill="none" stroke="#111" stroke-width="0.9"/>
<path d="M107.5,437.5 L115,423.7 M107.5,474.5 L115,535" stroke="#111" stroke-width="0.9" fill="none"/>
<rect x="115" y="423.7" width="113.5" height="111.3" fill="#da8ad2"/>
<g clip-path="url(#cpM)"><rect x="115" y="423" width="114" height="113" filter="url(#nzD2)"/></g>
<rect x="115" y="423.7" width="113.5" height="111.3" fill="none" stroke="#111" stroke-width="1"/>
<rect x="132.6" y="494.3" width="38.2" height="37" fill="none" stroke="#111" stroke-width="0.9"/>
<path d="M170.8,531.3 L273.5,488.3" stroke="#111" stroke-width="0.9" fill="none"/>
<rect x="172.3" y="389.5" width="101.2" height="98.8" fill="#d38bd6"/>
<g clip-path="url(#cpT)">
<rect x="172" y="389" width="102" height="100" filter="url(#nzA2)" opacity="0.5"/>
<ellipse cx="176.7" cy="476.6" rx="3.3" ry="3.6" fill="#e58ccc" fill-opacity="0.45" stroke="#e4162e" stroke-width="0.85" transform="rotate(96 176.7 476.6)"/>
<ellipse cx="176.7" cy="476.6" rx="1.7" ry="2.0" fill="#8d6ab0" opacity="0.85" transform="rotate(96 176.7 476.6)"/>
<ellipse cx="184.4" cy="459.3" rx="2.9" ry="4.1" fill="#e58ccc" fill-opacity="0.45" stroke="#e4162e" stroke-width="0.85" transform="rotate(82 184.4 459.3)"/>
<ellipse cx="184.4" cy="459.3" rx="1.5" ry="2.3" fill="#8d6ab0" opacity="0.85" transform="rotate(82 184.4 459.3)"/>
<ellipse cx="177.8" cy="454.8" rx="3.2" ry="4.2" fill="#e58ccc" fill-opacity="0.45" stroke="#e4162e" stroke-width="0.85" transform="rotate(144 177.8 454.8)"/>
<ellipse cx="177.8" cy="454.8" rx="1.6" ry="2.3" fill="#8d6ab0" opacity="0.85" transform="rotate(144 177.8 454.8)"/>
<ellipse cx="178.7" cy="471.2" rx="3.4" ry="4.2" fill="#e58ccc" fill-opacity="0.45" stroke="#e4162e" stroke-width="0.85" transform="rotate(103 178.7 471.2)"/>
<ellipse cx="178.7" cy="471.2" rx="1.7" ry="2.3" fill="#8d6ab0" opacity="0.85" transform="rotate(103 178.7 471.2)"/>
<ellipse cx="266.5" cy="432.9" rx="3.3" ry="3.5" fill="#e58ccc" fill-opacity="0.45" stroke="#e4162e" stroke-width="0.85" transform="rotate(162 266.5 432.9)"/>
<ellipse cx="266.5" cy="432.9" rx="1.7" ry="1.9" fill="#8d6ab0" opacity="0.85" transform="rotate(162 266.5 432.9)"/>
<ellipse cx="273.7" cy="422.9" rx="3.7" ry="3.9" fill="#e58ccc" fill-opacity="0.45" stroke="#e4162e" stroke-width="0.85" transform="rotate(88 273.7 422.9)"/>
<ellipse cx="273.7" cy="422.9" rx="1.9" ry="2.1" fill="#8d6ab0" opacity="0.85" transform="rotate(88 273.7 422.9)"/>
<ellipse cx="258.5" cy="429.0" rx="3.5" ry="4.2" fill="#e58ccc" fill-opacity="0.45" stroke="#e4162e" stroke-width="0.85" transform="rotate(27 258.5 429.0)"/>
<ellipse cx="258.5" cy="429.0" rx="1.8" ry="2.3" fill="#8d6ab0" opacity="0.85" transform="rotate(27 258.5 429.0)"/>
<ellipse cx="231.0" cy="484.8" rx="3.2" ry="4.3" fill="#e58ccc" fill-opacity="0.45" stroke="#e4162e" stroke-width="0.85" transform="rotate(10 231.0 484.8)"/>
<ellipse cx="231.0" cy="484.8" rx="1.6" ry="2.4" fill="#8d6ab0" opacity="0.85" transform="rotate(10 231.0 484.8)"/>
<ellipse cx="192.2" cy="393.8" rx="3.0" ry="3.9" fill="#e58ccc" fill-opacity="0.45" stroke="#e4162e" stroke-width="0.85" transform="rotate(37 192.2 393.8)"/>
<ellipse cx="192.2" cy="393.8" rx="1.5" ry="2.1" fill="#8d6ab0" opacity="0.85" transform="rotate(37 192.2 393.8)"/>
<ellipse cx="191.4" cy="399.9" rx="3.5" ry="4.0" fill="#e58ccc" fill-opacity="0.45" stroke="#e4162e" stroke-width="0.85" transform="rotate(110 191.4 399.9)"/>
<ellipse cx="191.4" cy="399.9" rx="1.8" ry="2.2" fill="#8d6ab0" opacity="0.85" transform="rotate(110 191.4 399.9)"/>
<ellipse cx="206.3" cy="392.2" rx="2.9" ry="3.9" fill="#e58ccc" fill-opacity="0.45" stroke="#e4162e" stroke-width="0.85" transform="rotate(150 206.3 392.2)"/>
<ellipse cx="206.3" cy="392.2" rx="1.5" ry="2.2" fill="#8d6ab0" opacity="0.85" transform="rotate(150 206.3 392.2)"/>
<ellipse cx="189.1" cy="389.2" rx="3.0" ry="3.5" fill="#e58ccc" fill-opacity="0.45" stroke="#e4162e" stroke-width="0.85" transform="rotate(58 189.1 389.2)"/>
<ellipse cx="189.1" cy="389.2" rx="1.5" ry="1.9" fill="#8d6ab0" opacity="0.85" transform="rotate(58 189.1 389.2)"/>
<ellipse cx="218.6" cy="410.3" rx="3.4" ry="3.9" fill="#e58ccc" fill-opacity="0.45" stroke="#e4162e" stroke-width="0.85" transform="rotate(53 218.6 410.3)"/>
<ellipse cx="218.6" cy="410.3" rx="1.7" ry="2.2" fill="#8d6ab0" opacity="0.85" transform="rotate(53 218.6 410.3)"/>
<ellipse cx="212.1" cy="402.1" rx="3.7" ry="3.9" fill="#e58ccc" fill-opacity="0.45" stroke="#e4162e" stroke-width="0.85" transform="rotate(80 212.1 402.1)"/>
<ellipse cx="212.1" cy="402.1" rx="1.8" ry="2.2" fill="#8d6ab0" opacity="0.85" transform="rotate(80 212.1 402.1)"/>
<ellipse cx="209.5" cy="404.8" rx="3.7" ry="3.5" fill="#e58ccc" fill-opacity="0.45" stroke="#e4162e" stroke-width="0.85" transform="rotate(103 209.5 404.8)"/>
<ellipse cx="209.5" cy="404.8" rx="1.8" ry="1.9" fill="#8d6ab0" opacity="0.85" transform="rotate(103 209.5 404.8)"/>
<ellipse cx="178.8" cy="429.3" rx="3.1" ry="3.7" fill="#e58ccc" fill-opacity="0.45" stroke="#e4162e" stroke-width="0.85" transform="rotate(125 178.8 429.3)"/>
<ellipse cx="178.8" cy="429.3" rx="1.6" ry="2.0" fill="#8d6ab0" opacity="0.85" transform="rotate(125 178.8 429.3)"/>
<ellipse cx="211.9" cy="472.0" rx="3.7" ry="4.2" fill="#e58ccc" fill-opacity="0.45" stroke="#e4162e" stroke-width="0.85" transform="rotate(43 211.9 472.0)"/>
<ellipse cx="211.9" cy="472.0" rx="1.8" ry="2.3" fill="#8d6ab0" opacity="0.85" transform="rotate(43 211.9 472.0)"/>
<ellipse cx="178.7" cy="459.3" rx="3.4" ry="3.6" fill="#e58ccc" fill-opacity="0.45" stroke="#e4162e" stroke-width="0.85" transform="rotate(104 178.7 459.3)"/>
<ellipse cx="178.7" cy="459.3" rx="1.7" ry="2.0" fill="#8d6ab0" opacity="0.85" transform="rotate(104 178.7 459.3)"/>
<ellipse cx="163.1" cy="451.3" rx="3.4" ry="3.5" fill="#e58ccc" fill-opacity="0.45" stroke="#e4162e" stroke-width="0.85" transform="rotate(81 163.1 451.3)"/>
<ellipse cx="163.1" cy="451.3" rx="1.7" ry="1.9" fill="#8d6ab0" opacity="0.85" transform="rotate(81 163.1 451.3)"/>
<ellipse cx="171.2" cy="455.2" rx="3.4" ry="4.2" fill="#e58ccc" fill-opacity="0.45" stroke="#e4162e" stroke-width="0.85" transform="rotate(104 171.2 455.2)"/>
<ellipse cx="171.2" cy="455.2" rx="1.7" ry="2.3" fill="#8d6ab0" opacity="0.85" transform="rotate(104 171.2 455.2)"/>
<ellipse cx="172.7" cy="441.4" rx="3.5" ry="3.8" fill="#e58ccc" fill-opacity="0.45" stroke="#e4162e" stroke-width="0.85" transform="rotate(75 172.7 441.4)"/>
<ellipse cx="172.7" cy="441.4" rx="1.7" ry="2.1" fill="#8d6ab0" opacity="0.85" transform="rotate(75 172.7 441.4)"/>
<ellipse cx="258.5" cy="458.9" rx="3.7" ry="4.3" fill="#e58ccc" fill-opacity="0.45" stroke="#e4162e" stroke-width="0.85" transform="rotate(125 258.5 458.9)"/>
<ellipse cx="258.5" cy="458.9" rx="1.9" ry="2.3" fill="#8d6ab0" opacity="0.85" transform="rotate(125 258.5 458.9)"/>
<ellipse cx="262.2" cy="458.4" rx="3.1" ry="3.9" fill="#e58ccc" fill-opacity="0.45" stroke="#e4162e" stroke-width="0.85" transform="rotate(118 262.2 458.4)"/>
<ellipse cx="262.2" cy="458.4" rx="1.6" ry="2.2" fill="#8d6ab0" opacity="0.85" transform="rotate(118 262.2 458.4)"/>
<ellipse cx="183.8" cy="403.6" rx="3.6" ry="4.0" fill="#e58ccc" fill-opacity="0.45" stroke="#e4162e" stroke-width="0.85" transform="rotate(23 183.8 403.6)"/>
<ellipse cx="183.8" cy="403.6" rx="1.8" ry="2.2" fill="#8d6ab0" opacity="0.85" transform="rotate(23 183.8 403.6)"/>
<ellipse cx="193.3" cy="406.9" rx="3.1" ry="4.0" fill="#e58ccc" fill-opacity="0.45" stroke="#e4162e" stroke-width="0.85" transform="rotate(37 193.3 406.9)"/>
<ellipse cx="193.3" cy="406.9" rx="1.6" ry="2.2" fill="#8d6ab0" opacity="0.85" transform="rotate(37 193.3 406.9)"/>
<ellipse cx="214.8" cy="394.4" rx="3.2" ry="3.7" fill="#e58ccc" fill-opacity="0.45" stroke="#e4162e" stroke-width="0.85" transform="rotate(159 214.8 394.4)"/>
<ellipse cx="214.8" cy="394.4" rx="1.6" ry="2.0" fill="#8d6ab0" opacity="0.85" transform="rotate(159 214.8 394.4)"/>
<ellipse cx="210.0" cy="393.0" rx="2.9" ry="3.9" fill="#e58ccc" fill-opacity="0.45" stroke="#e4162e" stroke-width="0.85" transform="rotate(64 210.0 393.0)"/>
<ellipse cx="210.0" cy="393.0" rx="1.5" ry="2.1" fill="#8d6ab0" opacity="0.85" transform="rotate(64 210.0 393.0)"/>
<ellipse cx="207.1" cy="396.1" rx="3.2" ry="3.5" fill="#e58ccc" fill-opacity="0.45" stroke="#e4162e" stroke-width="0.85" transform="rotate(134 207.1 396.1)"/>
<ellipse cx="207.1" cy="396.1" rx="1.6" ry="1.9" fill="#8d6ab0" opacity="0.85" transform="rotate(134 207.1 396.1)"/>
<ellipse cx="267.8" cy="457.7" rx="3.4" ry="4.1" fill="#e58ccc" fill-opacity="0.45" stroke="#e4162e" stroke-width="0.85" transform="rotate(106 267.8 457.7)"/>
<ellipse cx="267.8" cy="457.7" rx="1.7" ry="2.3" fill="#8d6ab0" opacity="0.85" transform="rotate(106 267.8 457.7)"/>
<ellipse cx="263.5" cy="462.6" rx="3.4" ry="4.1" fill="#e58ccc" fill-opacity="0.45" stroke="#e4162e" stroke-width="0.85" transform="rotate(132 263.5 462.6)"/>
<ellipse cx="263.5" cy="462.6" rx="1.7" ry="2.2" fill="#8d6ab0" opacity="0.85" transform="rotate(132 263.5 462.6)"/>
<ellipse cx="264.9" cy="453.4" rx="3.6" ry="4.2" fill="#e58ccc" fill-opacity="0.45" stroke="#e4162e" stroke-width="0.85" transform="rotate(159 264.9 453.4)"/>
<ellipse cx="264.9" cy="453.4" rx="1.8" ry="2.3" fill="#8d6ab0" opacity="0.85" transform="rotate(159 264.9 453.4)"/>
<ellipse cx="255.1" cy="452.6" rx="3.8" ry="3.7" fill="#e58ccc" fill-opacity="0.45" stroke="#e4162e" stroke-width="0.85" transform="rotate(157 255.1 452.6)"/>
<ellipse cx="255.1" cy="452.6" rx="1.9" ry="2.0" fill="#8d6ab0" opacity="0.85" transform="rotate(157 255.1 452.6)"/>
<ellipse cx="248.2" cy="452.0" rx="3.6" ry="3.6" fill="#e58ccc" fill-opacity="0.45" stroke="#e4162e" stroke-width="0.85" transform="rotate(78 248.2 452.0)"/>
<ellipse cx="248.2" cy="452.0" rx="1.8" ry="2.0" fill="#8d6ab0" opacity="0.85" transform="rotate(78 248.2 452.0)"/>
<ellipse cx="254.9" cy="460.3" rx="3.1" ry="4.0" fill="#e58ccc" fill-opacity="0.45" stroke="#e4162e" stroke-width="0.85" transform="rotate(138 254.9 460.3)"/>
<ellipse cx="254.9" cy="460.3" rx="1.6" ry="2.2" fill="#8d6ab0" opacity="0.85" transform="rotate(138 254.9 460.3)"/>
<ellipse cx="173.5" cy="424.8" rx="3.4" ry="4.1" fill="#e58ccc" fill-opacity="0.45" stroke="#e4162e" stroke-width="0.85" transform="rotate(51 173.5 424.8)"/>
<ellipse cx="173.5" cy="424.8" rx="1.7" ry="2.3" fill="#8d6ab0" opacity="0.85" transform="rotate(51 173.5 424.8)"/>
<ellipse cx="178.2" cy="418.8" rx="3.8" ry="3.5" fill="#e58ccc" fill-opacity="0.45" stroke="#e4162e" stroke-width="0.85" transform="rotate(5 178.2 418.8)"/>
<ellipse cx="178.2" cy="418.8" rx="1.9" ry="2.0" fill="#8d6ab0" opacity="0.85" transform="rotate(5 178.2 418.8)"/>
<ellipse cx="176.2" cy="438.2" rx="3.3" ry="3.5" fill="#e58ccc" fill-opacity="0.45" stroke="#e4162e" stroke-width="0.85" transform="rotate(15 176.2 438.2)"/>
<ellipse cx="176.2" cy="438.2" rx="1.7" ry="1.9" fill="#8d6ab0" opacity="0.85" transform="rotate(15 176.2 438.2)"/>
<ellipse cx="175.9" cy="432.5" rx="3.7" ry="3.7" fill="#e58ccc" fill-opacity="0.45" stroke="#e4162e" stroke-width="0.85" transform="rotate(138 175.9 432.5)"/>
<ellipse cx="175.9" cy="432.5" rx="1.8" ry="2.0" fill="#8d6ab0" opacity="0.85" transform="rotate(138 175.9 432.5)"/>
<ellipse cx="220.2" cy="472.0" rx="3.5" ry="4.1" fill="#e58ccc" fill-opacity="0.45" stroke="#e4162e" stroke-width="0.85" transform="rotate(24 220.2 472.0)"/>
<ellipse cx="220.2" cy="472.0" rx="1.7" ry="2.2" fill="#8d6ab0" opacity="0.85" transform="rotate(24 220.2 472.0)"/>
<ellipse cx="223.1" cy="467.3" rx="3.2" ry="3.8" fill="#e58ccc" fill-opacity="0.45" stroke="#e4162e" stroke-width="0.85" transform="rotate(101 223.1 467.3)"/>
<ellipse cx="223.1" cy="467.3" rx="1.6" ry="2.1" fill="#8d6ab0" opacity="0.85" transform="rotate(101 223.1 467.3)"/>
<ellipse cx="214.3" cy="474.6" rx="3.6" ry="4.1" fill="#e58ccc" fill-opacity="0.45" stroke="#e4162e" stroke-width="0.85" transform="rotate(75 214.3 474.6)"/>
<ellipse cx="214.3" cy="474.6" rx="1.8" ry="2.2" fill="#8d6ab0" opacity="0.85" transform="rotate(75 214.3 474.6)"/>
<ellipse cx="210.2" cy="465.6" rx="3.3" ry="3.4" fill="#e58ccc" fill-opacity="0.45" stroke="#e4162e" stroke-width="0.85" transform="rotate(126 210.2 465.6)"/>
<ellipse cx="210.2" cy="465.6" rx="1.7" ry="1.9" fill="#8d6ab0" opacity="0.85" transform="rotate(126 210.2 465.6)"/>
<ellipse cx="160.6" cy="485.4" rx="3.1" ry="3.4" fill="#e58ccc" fill-opacity="0.45" stroke="#e4162e" stroke-width="0.85" transform="rotate(138 160.6 485.4)"/>
<ellipse cx="160.6" cy="485.4" rx="1.5" ry="1.9" fill="#8d6ab0" opacity="0.85" transform="rotate(138 160.6 485.4)"/>
<ellipse cx="210.6" cy="396.6" rx="3.3" ry="3.4" fill="#e58ccc" fill-opacity="0.45" stroke="#e4162e" stroke-width="0.85" transform="rotate(112 210.6 396.6)"/>
<ellipse cx="210.6" cy="396.6" rx="1.7" ry="1.9" fill="#8d6ab0" opacity="0.85" transform="rotate(112 210.6 396.6)"/>
<ellipse cx="209.8" cy="384.8" rx="3.4" ry="4.2" fill="#e58ccc" fill-opacity="0.45" stroke="#e4162e" stroke-width="0.85" transform="rotate(73 209.8 384.8)"/>
<ellipse cx="209.8" cy="384.8" rx="1.7" ry="2.3" fill="#8d6ab0" opacity="0.85" transform="rotate(73 209.8 384.8)"/>
<ellipse cx="247.0" cy="485.8" rx="3.4" ry="3.6" fill="#e58ccc" fill-opacity="0.45" stroke="#e4162e" stroke-width="0.85" transform="rotate(43 247.0 485.8)"/>
<ellipse cx="247.0" cy="485.8" rx="1.7" ry="2.0" fill="#8d6ab0" opacity="0.85" transform="rotate(43 247.0 485.8)"/>
<ellipse cx="237.5" cy="459.3" rx="3.2" ry="3.8" fill="#e58ccc" fill-opacity="0.45" stroke="#e4162e" stroke-width="0.85" transform="rotate(177 237.5 459.3)"/>
<ellipse cx="237.5" cy="459.3" rx="1.6" ry="2.1" fill="#8d6ab0" opacity="0.85" transform="rotate(177 237.5 459.3)"/>
<ellipse cx="224.7" cy="478.7" rx="2.9" ry="4.2" fill="#e58ccc" fill-opacity="0.45" stroke="#e4162e" stroke-width="0.85" transform="rotate(14 224.7 478.7)"/>
<ellipse cx="224.7" cy="478.7" rx="1.5" ry="2.3" fill="#8d6ab0" opacity="0.85" transform="rotate(14 224.7 478.7)"/>
<ellipse cx="236.6" cy="487.6" rx="3.3" ry="3.9" fill="#e58ccc" fill-opacity="0.45" stroke="#e4162e" stroke-width="0.85" transform="rotate(176 236.6 487.6)"/>
<ellipse cx="236.6" cy="487.6" rx="1.6" ry="2.1" fill="#8d6ab0" opacity="0.85" transform="rotate(176 236.6 487.6)"/>
<ellipse cx="239.7" cy="461.7" rx="3.4" ry="3.7" fill="#e58ccc" fill-opacity="0.45" stroke="#e4162e" stroke-width="0.85" transform="rotate(92 239.7 461.7)"/>
<ellipse cx="239.7" cy="461.7" rx="1.7" ry="2.0" fill="#8d6ab0" opacity="0.85" transform="rotate(92 239.7 461.7)"/>
<ellipse cx="223.9" cy="432.9" rx="3.3" ry="3.8" fill="#e58ccc" fill-opacity="0.45" stroke="#e4162e" stroke-width="0.85" transform="rotate(36 223.9 432.9)"/>
<ellipse cx="223.9" cy="432.9" rx="1.7" ry="2.1" fill="#8d6ab0" opacity="0.85" transform="rotate(36 223.9 432.9)"/>
<ellipse cx="236.9" cy="400.0" rx="3.8" ry="3.8" fill="#e58ccc" fill-opacity="0.45" stroke="#e4162e" stroke-width="0.85" transform="rotate(176 236.9 400.0)"/>
<ellipse cx="236.9" cy="400.0" rx="1.9" ry="2.1" fill="#8d6ab0" opacity="0.85" transform="rotate(176 236.9 400.0)"/>
<ellipse cx="237.1" cy="409.9" rx="3.4" ry="3.3" fill="#e58ccc" fill-opacity="0.45" stroke="#e4162e" stroke-width="0.85" transform="rotate(4 237.1 409.9)"/>
<ellipse cx="237.1" cy="409.9" rx="1.7" ry="1.8" fill="#8d6ab0" opacity="0.85" transform="rotate(4 237.1 409.9)"/>
<ellipse cx="228.9" cy="411.6" rx="3.2" ry="3.4" fill="#e58ccc" fill-opacity="0.45" stroke="#e4162e" stroke-width="0.85" transform="rotate(37 228.9 411.6)"/>
<ellipse cx="228.9" cy="411.6" rx="1.6" ry="1.8" fill="#8d6ab0" opacity="0.85" transform="rotate(37 228.9 411.6)"/>
<ellipse cx="203.9" cy="441.9" rx="3.2" ry="3.5" fill="#e58ccc" fill-opacity="0.45" stroke="#e4162e" stroke-width="0.85" transform="rotate(153 203.9 441.9)"/>
<ellipse cx="203.9" cy="441.9" rx="1.6" ry="1.9" fill="#8d6ab0" opacity="0.85" transform="rotate(153 203.9 441.9)"/>
<ellipse cx="235.7" cy="479.9" rx="3.0" ry="3.7" fill="#e58ccc" fill-opacity="0.45" stroke="#e4162e" stroke-width="0.85" transform="rotate(159 235.7 479.9)"/>
<ellipse cx="235.7" cy="479.9" rx="1.5" ry="2.1" fill="#8d6ab0" opacity="0.85" transform="rotate(159 235.7 479.9)"/>
<ellipse cx="243.5" cy="487.2" rx="3.2" ry="3.7" fill="#e58ccc" fill-opacity="0.45" stroke="#e4162e" stroke-width="0.85" transform="rotate(58 243.5 487.2)"/>
<ellipse cx="243.5" cy="487.2" rx="1.6" ry="2.0" fill="#8d6ab0" opacity="0.85" transform="rotate(58 243.5 487.2)"/>
<ellipse cx="248.8" cy="491.5" rx="3.0" ry="4.2" fill="#e58ccc" fill-opacity="0.45" stroke="#e4162e" stroke-width="0.85" transform="rotate(43 248.8 491.5)"/>
<ellipse cx="248.8" cy="491.5" rx="1.5" ry="2.3" fill="#8d6ab0" opacity="0.85" transform="rotate(43 248.8 491.5)"/>
<ellipse cx="223.8" cy="442.3" rx="3.7" ry="3.9" fill="#e58ccc" fill-opacity="0.45" stroke="#e4162e" stroke-width="0.85" transform="rotate(109 223.8 442.3)"/>
<ellipse cx="223.8" cy="442.3" rx="1.9" ry="2.2" fill="#8d6ab0" opacity="0.85" transform="rotate(109 223.8 442.3)"/>
<ellipse cx="214.7" cy="449.9" rx="3.6" ry="4.0" fill="#e58ccc" fill-opacity="0.45" stroke="#e4162e" stroke-width="0.85" transform="rotate(37 214.7 449.9)"/>
<ellipse cx="214.7" cy="449.9" rx="1.8" ry="2.2" fill="#8d6ab0" opacity="0.85" transform="rotate(37 214.7 449.9)"/>
<ellipse cx="232.6" cy="399.9" rx="3.1" ry="3.5" fill="#e58ccc" fill-opacity="0.45" stroke="#e4162e" stroke-width="0.85" transform="rotate(116 232.6 399.9)"/>
<ellipse cx="232.6" cy="399.9" rx="1.5" ry="1.9" fill="#8d6ab0" opacity="0.85" transform="rotate(116 232.6 399.9)"/>
<ellipse cx="241.2" cy="401.4" rx="3.5" ry="3.6" fill="#e58ccc" fill-opacity="0.45" stroke="#e4162e" stroke-width="0.85" transform="rotate(87 241.2 401.4)"/>
<ellipse cx="241.2" cy="401.4" rx="1.8" ry="2.0" fill="#8d6ab0" opacity="0.85" transform="rotate(87 241.2 401.4)"/>
<ellipse cx="268.8" cy="423.2" rx="3.0" ry="3.4" fill="#e58ccc" fill-opacity="0.45" stroke="#e4162e" stroke-width="0.85" transform="rotate(26 268.8 423.2)"/>
<ellipse cx="268.8" cy="423.2" rx="1.5" ry="1.8" fill="#8d6ab0" opacity="0.85" transform="rotate(26 268.8 423.2)"/>
<ellipse cx="264.3" cy="420.6" rx="3.2" ry="4.2" fill="#e58ccc" fill-opacity="0.45" stroke="#e4162e" stroke-width="0.85" transform="rotate(6 264.3 420.6)"/>
<ellipse cx="264.3" cy="420.6" rx="1.6" ry="2.3" fill="#8d6ab0" opacity="0.85" transform="rotate(6 264.3 420.6)"/>
<ellipse cx="275.6" cy="430.0" rx="3.1" ry="3.6" fill="#e58ccc" fill-opacity="0.45" stroke="#e4162e" stroke-width="0.85" transform="rotate(174 275.6 430.0)"/>
<ellipse cx="275.6" cy="430.0" rx="1.5" ry="2.0" fill="#8d6ab0" opacity="0.85" transform="rotate(174 275.6 430.0)"/>
<ellipse cx="261.4" cy="431.5" rx="3.3" ry="3.4" fill="#e58ccc" fill-opacity="0.45" stroke="#e4162e" stroke-width="0.85" transform="rotate(70 261.4 431.5)"/>
<ellipse cx="261.4" cy="431.5" rx="1.7" ry="1.9" fill="#8d6ab0" opacity="0.85" transform="rotate(70 261.4 431.5)"/>
<ellipse cx="276.0" cy="480.8" rx="3.2" ry="3.4" fill="#e58ccc" fill-opacity="0.45" stroke="#e4162e" stroke-width="0.85" transform="rotate(116 276.0 480.8)"/>
<ellipse cx="276.0" cy="480.8" rx="1.6" ry="1.9" fill="#8d6ab0" opacity="0.85" transform="rotate(116 276.0 480.8)"/>
<ellipse cx="269.1" cy="464.9" rx="3.3" ry="3.3" fill="#e58ccc" fill-opacity="0.45" stroke="#e4162e" stroke-width="0.85" transform="rotate(148 269.1 464.9)"/>
<ellipse cx="269.1" cy="464.9" rx="1.7" ry="1.8" fill="#8d6ab0" opacity="0.85" transform="rotate(148 269.1 464.9)"/>
<ellipse cx="267.5" cy="477.6" rx="3.0" ry="3.3" fill="#e58ccc" fill-opacity="0.45" stroke="#e4162e" stroke-width="0.85" transform="rotate(87 267.5 477.6)"/>
<ellipse cx="267.5" cy="477.6" rx="1.5" ry="1.8" fill="#8d6ab0" opacity="0.85" transform="rotate(87 267.5 477.6)"/>
<ellipse cx="279.9" cy="483.5" rx="3.0" ry="4.0" fill="#e58ccc" fill-opacity="0.45" stroke="#e4162e" stroke-width="0.85" transform="rotate(31 279.9 483.5)"/>
<ellipse cx="279.9" cy="483.5" rx="1.5" ry="2.2" fill="#8d6ab0" opacity="0.85" transform="rotate(31 279.9 483.5)"/>
<ellipse cx="246.6" cy="407.3" rx="2.9" ry="4.0" fill="#e58ccc" fill-opacity="0.45" stroke="#e4162e" stroke-width="0.85" transform="rotate(59 246.6 407.3)"/>
<ellipse cx="246.6" cy="407.3" rx="1.5" ry="2.2" fill="#8d6ab0" opacity="0.85" transform="rotate(59 246.6 407.3)"/>
<ellipse cx="251.1" cy="402.5" rx="3.6" ry="3.4" fill="#e58ccc" fill-opacity="0.45" stroke="#e4162e" stroke-width="0.85" transform="rotate(12 251.1 402.5)"/>
<ellipse cx="251.1" cy="402.5" rx="1.8" ry="1.8" fill="#8d6ab0" opacity="0.85" transform="rotate(12 251.1 402.5)"/>
<ellipse cx="254.7" cy="408.1" rx="3.4" ry="3.9" fill="#e58ccc" fill-opacity="0.45" stroke="#e4162e" stroke-width="0.85" transform="rotate(89 254.7 408.1)"/>
<ellipse cx="254.7" cy="408.1" rx="1.7" ry="2.1" fill="#8d6ab0" opacity="0.85" transform="rotate(89 254.7 408.1)"/>
<ellipse cx="257.3" cy="396.6" rx="3.2" ry="4.0" fill="#e58ccc" fill-opacity="0.45" stroke="#e4162e" stroke-width="0.85" transform="rotate(132 257.3 396.6)"/>
<ellipse cx="257.3" cy="396.6" rx="1.6" ry="2.2" fill="#8d6ab0" opacity="0.85" transform="rotate(132 257.3 396.6)"/>
<ellipse cx="224.2" cy="446.8" rx="3.4" ry="3.3" fill="#e58ccc" fill-opacity="0.45" stroke="#e4162e" stroke-width="0.85" transform="rotate(80 224.2 446.8)"/>
<ellipse cx="224.2" cy="446.8" rx="1.7" ry="1.8" fill="#8d6ab0" opacity="0.85" transform="rotate(80 224.2 446.8)"/>
<ellipse cx="207.2" cy="433.0" rx="3.5" ry="3.9" fill="#e58ccc" fill-opacity="0.45" stroke="#e4162e" stroke-width="0.85" transform="rotate(67 207.2 433.0)"/>
<ellipse cx="207.2" cy="433.0" rx="1.7" ry="2.2" fill="#8d6ab0" opacity="0.85" transform="rotate(67 207.2 433.0)"/>
<ellipse cx="213.8" cy="456.6" rx="3.5" ry="3.4" fill="#e58ccc" fill-opacity="0.45" stroke="#e4162e" stroke-width="0.85" transform="rotate(45 213.8 456.6)"/>
<ellipse cx="213.8" cy="456.6" rx="1.7" ry="1.9" fill="#8d6ab0" opacity="0.85" transform="rotate(45 213.8 456.6)"/>
<ellipse cx="206.6" cy="447.8" rx="3.0" ry="3.8" fill="#e58ccc" fill-opacity="0.45" stroke="#e4162e" stroke-width="0.85" transform="rotate(23 206.6 447.8)"/>
<ellipse cx="206.6" cy="447.8" rx="1.5" ry="2.1" fill="#8d6ab0" opacity="0.85" transform="rotate(23 206.6 447.8)"/>
<ellipse cx="201.6" cy="451.7" rx="3.8" ry="3.6" fill="#e58ccc" fill-opacity="0.45" stroke="#e4162e" stroke-width="0.85" transform="rotate(23 201.6 451.7)"/>
<ellipse cx="201.6" cy="451.7" rx="1.9" ry="2.0" fill="#8d6ab0" opacity="0.85" transform="rotate(23 201.6 451.7)"/>
<ellipse cx="234.8" cy="453.8" rx="3.4" ry="3.6" fill="#e58ccc" fill-opacity="0.45" stroke="#e4162e" stroke-width="0.85" transform="rotate(86 234.8 453.8)"/>
<ellipse cx="234.8" cy="453.8" rx="1.7" ry="2.0" fill="#8d6ab0" opacity="0.85" transform="rotate(86 234.8 453.8)"/>
<ellipse cx="243.7" cy="453.0" rx="3.0" ry="3.9" fill="#e58ccc" fill-opacity="0.45" stroke="#e4162e" stroke-width="0.85" transform="rotate(142 243.7 453.0)"/>
<ellipse cx="243.7" cy="453.0" rx="1.5" ry="2.2" fill="#8d6ab0" opacity="0.85" transform="rotate(142 243.7 453.0)"/>
<ellipse cx="246.3" cy="469.3" rx="2.9" ry="3.8" fill="#e58ccc" fill-opacity="0.45" stroke="#e4162e" stroke-width="0.85" transform="rotate(152 246.3 469.3)"/>
<ellipse cx="246.3" cy="469.3" rx="1.5" ry="2.1" fill="#8d6ab0" opacity="0.85" transform="rotate(152 246.3 469.3)"/>
<ellipse cx="260.7" cy="471.0" rx="3.3" ry="3.5" fill="#e58ccc" fill-opacity="0.45" stroke="#e4162e" stroke-width="0.85" transform="rotate(142 260.7 471.0)"/>
<ellipse cx="260.7" cy="471.0" rx="1.6" ry="1.9" fill="#8d6ab0" opacity="0.85" transform="rotate(142 260.7 471.0)"/>
<ellipse cx="260.6" cy="480.1" rx="3.5" ry="3.8" fill="#e58ccc" fill-opacity="0.45" stroke="#e4162e" stroke-width="0.85" transform="rotate(159 260.6 480.1)"/>
<ellipse cx="260.6" cy="480.1" rx="1.8" ry="2.1" fill="#8d6ab0" opacity="0.85" transform="rotate(159 260.6 480.1)"/>
<ellipse cx="253.0" cy="469.8" rx="3.2" ry="3.9" fill="#e58ccc" fill-opacity="0.45" stroke="#e4162e" stroke-width="0.85" transform="rotate(157 253.0 469.8)"/>
<ellipse cx="253.0" cy="469.8" rx="1.6" ry="2.1" fill="#8d6ab0" opacity="0.85" transform="rotate(157 253.0 469.8)"/>
<ellipse cx="255.5" cy="475.2" rx="3.6" ry="3.2" fill="#e58ccc" fill-opacity="0.45" stroke="#e4162e" stroke-width="0.85" transform="rotate(47 255.5 475.2)"/>
<ellipse cx="255.5" cy="475.2" rx="1.8" ry="1.8" fill="#8d6ab0" opacity="0.85" transform="rotate(47 255.5 475.2)"/>
<ellipse cx="209.5" cy="449.2" rx="3.7" ry="3.5" fill="#e58ccc" fill-opacity="0.45" stroke="#e4162e" stroke-width="0.85" transform="rotate(21 209.5 449.2)"/>
<ellipse cx="209.5" cy="449.2" rx="1.9" ry="1.9" fill="#8d6ab0" opacity="0.85" transform="rotate(21 209.5 449.2)"/>
<ellipse cx="251.3" cy="406.2" rx="3.0" ry="3.7" fill="#e58ccc" fill-opacity="0.45" stroke="#e4162e" stroke-width="0.85" transform="rotate(87 251.3 406.2)"/>
<ellipse cx="251.3" cy="406.2" rx="1.5" ry="2.1" fill="#8d6ab0" opacity="0.85" transform="rotate(87 251.3 406.2)"/>
<ellipse cx="242.1" cy="389.0" rx="3.2" ry="3.9" fill="#e58ccc" fill-opacity="0.45" stroke="#e4162e" stroke-width="0.85" transform="rotate(126 242.1 389.0)"/>
<ellipse cx="242.1" cy="389.0" rx="1.6" ry="2.1" fill="#8d6ab0" opacity="0.85" transform="rotate(126 242.1 389.0)"/>
<ellipse cx="235.7" cy="432.2" rx="3.0" ry="3.2" fill="#e58ccc" fill-opacity="0.45" stroke="#e4162e" stroke-width="0.85" transform="rotate(93 235.7 432.2)"/>
<ellipse cx="235.7" cy="432.2" rx="1.5" ry="1.8" fill="#8d6ab0" opacity="0.85" transform="rotate(93 235.7 432.2)"/>
<ellipse cx="242.2" cy="438.6" rx="3.7" ry="4.2" fill="#e58ccc" fill-opacity="0.45" stroke="#e4162e" stroke-width="0.85" transform="rotate(155 242.2 438.6)"/>
<ellipse cx="242.2" cy="438.6" rx="1.8" ry="2.3" fill="#8d6ab0" opacity="0.85" transform="rotate(155 242.2 438.6)"/>
<ellipse cx="250.9" cy="438.0" rx="3.2" ry="3.9" fill="#e58ccc" fill-opacity="0.45" stroke="#e4162e" stroke-width="0.85" transform="rotate(107 250.9 438.0)"/>
<ellipse cx="250.9" cy="438.0" rx="1.6" ry="2.2" fill="#8d6ab0" opacity="0.85" transform="rotate(107 250.9 438.0)"/>
<ellipse cx="186.7" cy="420.7" rx="3.6" ry="3.6" fill="#e58ccc" fill-opacity="0.45" stroke="#e4162e" stroke-width="0.85" transform="rotate(43 186.7 420.7)"/>
<ellipse cx="186.7" cy="420.7" rx="1.8" ry="2.0" fill="#8d6ab0" opacity="0.85" transform="rotate(43 186.7 420.7)"/>
<ellipse cx="192.9" cy="416.6" rx="3.4" ry="3.7" fill="#e58ccc" fill-opacity="0.45" stroke="#e4162e" stroke-width="0.85" transform="rotate(29 192.9 416.6)"/>
<ellipse cx="192.9" cy="416.6" rx="1.7" ry="2.0" fill="#8d6ab0" opacity="0.85" transform="rotate(29 192.9 416.6)"/>
<ellipse cx="187.2" cy="414.6" rx="3.5" ry="3.4" fill="#e58ccc" fill-opacity="0.45" stroke="#e4162e" stroke-width="0.85" transform="rotate(111 187.2 414.6)"/>
<ellipse cx="187.2" cy="414.6" rx="1.7" ry="1.9" fill="#8d6ab0" opacity="0.85" transform="rotate(111 187.2 414.6)"/>
<ellipse cx="248.4" cy="457.1" rx="3.2" ry="3.3" fill="#e58ccc" fill-opacity="0.45" stroke="#e4162e" stroke-width="0.85" transform="rotate(16 248.4 457.1)"/>
<ellipse cx="248.4" cy="457.1" rx="1.6" ry="1.8" fill="#8d6ab0" opacity="0.85" transform="rotate(16 248.4 457.1)"/>
<ellipse cx="227.5" cy="476.0" rx="3.1" ry="3.3" fill="#e58ccc" fill-opacity="0.45" stroke="#e4162e" stroke-width="0.85" transform="rotate(33 227.5 476.0)"/>
<ellipse cx="227.5" cy="476.0" rx="1.6" ry="1.8" fill="#8d6ab0" opacity="0.85" transform="rotate(33 227.5 476.0)"/>
<ellipse cx="228.0" cy="394.4" rx="3.5" ry="3.9" fill="#e58ccc" fill-opacity="0.45" stroke="#e4162e" stroke-width="0.85" transform="rotate(125 228.0 394.4)"/>
<ellipse cx="228.0" cy="394.4" rx="1.8" ry="2.2" fill="#8d6ab0" opacity="0.85" transform="rotate(125 228.0 394.4)"/>
<ellipse cx="239.7" cy="441.6" rx="3.2" ry="4.2" fill="#e58ccc" fill-opacity="0.45" stroke="#e4162e" stroke-width="0.85" transform="rotate(94 239.7 441.6)"/>
<ellipse cx="239.7" cy="441.6" rx="1.6" ry="2.3" fill="#8d6ab0" opacity="0.85" transform="rotate(94 239.7 441.6)"/>
<ellipse cx="243.6" cy="445.6" rx="3.6" ry="4.2" fill="#e58ccc" fill-opacity="0.45" stroke="#e4162e" stroke-width="0.85" transform="rotate(166 243.6 445.6)"/>
<ellipse cx="243.6" cy="445.6" rx="1.8" ry="2.3" fill="#8d6ab0" opacity="0.85" transform="rotate(166 243.6 445.6)"/>
<ellipse cx="228.2" cy="441.8" rx="3.0" ry="3.6" fill="#e58ccc" fill-opacity="0.45" stroke="#e4162e" stroke-width="0.85" transform="rotate(94 228.2 441.8)"/>
<ellipse cx="228.2" cy="441.8" rx="1.5" ry="2.0" fill="#8d6ab0" opacity="0.85" transform="rotate(94 228.2 441.8)"/>
<ellipse cx="253.2" cy="446.0" rx="3.2" ry="4.0" fill="#e58ccc" fill-opacity="0.45" stroke="#e4162e" stroke-width="0.85" transform="rotate(140 253.2 446.0)"/>
<ellipse cx="253.2" cy="446.0" rx="1.6" ry="2.2" fill="#8d6ab0" opacity="0.85" transform="rotate(140 253.2 446.0)"/>
<ellipse cx="251.6" cy="458.9" rx="3.4" ry="3.7" fill="#e58ccc" fill-opacity="0.45" stroke="#e4162e" stroke-width="0.85" transform="rotate(5 251.6 458.9)"/>
<ellipse cx="251.6" cy="458.9" rx="1.7" ry="2.1" fill="#8d6ab0" opacity="0.85" transform="rotate(5 251.6 458.9)"/>
<ellipse cx="244.4" cy="449.4" rx="3.0" ry="4.2" fill="#e58ccc" fill-opacity="0.45" stroke="#e4162e" stroke-width="0.85" transform="rotate(2 244.4 449.4)"/>
<ellipse cx="244.4" cy="449.4" rx="1.5" ry="2.3" fill="#8d6ab0" opacity="0.85" transform="rotate(2 244.4 449.4)"/>
<ellipse cx="243.5" cy="394.3" rx="3.6" ry="3.2" fill="#e58ccc" fill-opacity="0.45" stroke="#e4162e" stroke-width="0.85" transform="rotate(1 243.5 394.3)"/>
<ellipse cx="243.5" cy="394.3" rx="1.8" ry="1.8" fill="#8d6ab0" opacity="0.85" transform="rotate(1 243.5 394.3)"/>
<ellipse cx="251.4" cy="394.1" rx="3.1" ry="3.9" fill="#e58ccc" fill-opacity="0.45" stroke="#e4162e" stroke-width="0.85" transform="rotate(23 251.4 394.1)"/>
<ellipse cx="251.4" cy="394.1" rx="1.6" ry="2.1" fill="#8d6ab0" opacity="0.85" transform="rotate(23 251.4 394.1)"/>
<ellipse cx="251.1" cy="386.8" rx="3.0" ry="3.9" fill="#e58ccc" fill-opacity="0.45" stroke="#e4162e" stroke-width="0.85" transform="rotate(117 251.1 386.8)"/>
<ellipse cx="251.1" cy="386.8" rx="1.5" ry="2.1" fill="#8d6ab0" opacity="0.85" transform="rotate(117 251.1 386.8)"/>
<ellipse cx="246.7" cy="391.0" rx="3.3" ry="4.2" fill="#e58ccc" fill-opacity="0.45" stroke="#e4162e" stroke-width="0.85" transform="rotate(25 246.7 391.0)"/>
<ellipse cx="246.7" cy="391.0" rx="1.7" ry="2.3" fill="#8d6ab0" opacity="0.85" transform="rotate(25 246.7 391.0)"/>
<ellipse cx="245.6" cy="398.3" rx="2.9" ry="4.2" fill="#e58ccc" fill-opacity="0.45" stroke="#e4162e" stroke-width="0.85" transform="rotate(7 245.6 398.3)"/>
<ellipse cx="245.6" cy="398.3" rx="1.5" ry="2.3" fill="#8d6ab0" opacity="0.85" transform="rotate(7 245.6 398.3)"/>
<ellipse cx="245.3" cy="413.0" rx="3.5" ry="3.3" fill="#e58ccc" fill-opacity="0.45" stroke="#e4162e" stroke-width="0.85" transform="rotate(139 245.3 413.0)"/>
<ellipse cx="245.3" cy="413.0" rx="1.7" ry="1.8" fill="#8d6ab0" opacity="0.85" transform="rotate(139 245.3 413.0)"/>
<ellipse cx="243.4" cy="417.2" rx="3.7" ry="4.1" fill="#e58ccc" fill-opacity="0.45" stroke="#e4162e" stroke-width="0.85" transform="rotate(134 243.4 417.2)"/>
<ellipse cx="243.4" cy="417.2" rx="1.8" ry="2.3" fill="#8d6ab0" opacity="0.85" transform="rotate(134 243.4 417.2)"/>
<ellipse cx="186.2" cy="455.5" rx="3.8" ry="3.4" fill="#e58ccc" fill-opacity="0.45" stroke="#e4162e" stroke-width="0.85" transform="rotate(80 186.2 455.5)"/>
<ellipse cx="186.2" cy="455.5" rx="1.9" ry="1.8" fill="#8d6ab0" opacity="0.85" transform="rotate(80 186.2 455.5)"/>
<ellipse cx="192.4" cy="458.7" rx="3.4" ry="3.5" fill="#e58ccc" fill-opacity="0.45" stroke="#e4162e" stroke-width="0.85" transform="rotate(16 192.4 458.7)"/>
<ellipse cx="192.4" cy="458.7" rx="1.7" ry="2.0" fill="#8d6ab0" opacity="0.85" transform="rotate(16 192.4 458.7)"/>
<ellipse cx="193.8" cy="462.9" rx="3.8" ry="4.3" fill="#e58ccc" fill-opacity="0.45" stroke="#e4162e" stroke-width="0.85" transform="rotate(179 193.8 462.9)"/>
<ellipse cx="193.8" cy="462.9" rx="1.9" ry="2.3" fill="#8d6ab0" opacity="0.85" transform="rotate(179 193.8 462.9)"/>
<ellipse cx="197.9" cy="466.2" rx="3.7" ry="4.3" fill="#e58ccc" fill-opacity="0.45" stroke="#e4162e" stroke-width="0.85" transform="rotate(101 197.9 466.2)"/>
<ellipse cx="197.9" cy="466.2" rx="1.9" ry="2.4" fill="#8d6ab0" opacity="0.85" transform="rotate(101 197.9 466.2)"/>
<ellipse cx="186.5" cy="463.5" rx="3.3" ry="3.3" fill="#e58ccc" fill-opacity="0.45" stroke="#e4162e" stroke-width="0.85" transform="rotate(121 186.5 463.5)"/>
<ellipse cx="186.5" cy="463.5" rx="1.6" ry="1.8" fill="#8d6ab0" opacity="0.85" transform="rotate(121 186.5 463.5)"/>
<ellipse cx="251.5" cy="486.6" rx="3.7" ry="4.0" fill="#e58ccc" fill-opacity="0.45" stroke="#e4162e" stroke-width="0.85" transform="rotate(26 251.5 486.6)"/>
<ellipse cx="251.5" cy="486.6" rx="1.8" ry="2.2" fill="#8d6ab0" opacity="0.85" transform="rotate(26 251.5 486.6)"/>
<ellipse cx="255.3" cy="481.8" rx="3.6" ry="3.9" fill="#e58ccc" fill-opacity="0.45" stroke="#e4162e" stroke-width="0.85" transform="rotate(164 255.3 481.8)"/>
<ellipse cx="255.3" cy="481.8" rx="1.8" ry="2.1" fill="#8d6ab0" opacity="0.85" transform="rotate(164 255.3 481.8)"/>
<ellipse cx="253.2" cy="478.3" rx="3.1" ry="3.4" fill="#e58ccc" fill-opacity="0.45" stroke="#e4162e" stroke-width="0.85" transform="rotate(140 253.2 478.3)"/>
<ellipse cx="253.2" cy="478.3" rx="1.5" ry="1.9" fill="#8d6ab0" opacity="0.85" transform="rotate(140 253.2 478.3)"/>
<ellipse cx="203.7" cy="479.4" rx="3.2" ry="3.4" fill="#e58ccc" fill-opacity="0.45" stroke="#e4162e" stroke-width="0.85" transform="rotate(140 203.7 479.4)"/>
<ellipse cx="203.7" cy="479.4" rx="1.6" ry="1.9" fill="#8d6ab0" opacity="0.85" transform="rotate(140 203.7 479.4)"/>
<ellipse cx="231.2" cy="468.7" rx="3.2" ry="3.8" fill="#e58ccc" fill-opacity="0.45" stroke="#e4162e" stroke-width="0.85" transform="rotate(18 231.2 468.7)"/>
<ellipse cx="231.2" cy="468.7" rx="1.6" ry="2.1" fill="#8d6ab0" opacity="0.85" transform="rotate(18 231.2 468.7)"/>
<ellipse cx="238.6" cy="450.0" rx="3.0" ry="3.6" fill="#e58ccc" fill-opacity="0.45" stroke="#e4162e" stroke-width="0.85" transform="rotate(129 238.6 450.0)"/>
<ellipse cx="238.6" cy="450.0" rx="1.5" ry="2.0" fill="#8d6ab0" opacity="0.85" transform="rotate(129 238.6 450.0)"/>
<ellipse cx="248.8" cy="476.9" rx="3.4" ry="3.6" fill="#e58ccc" fill-opacity="0.45" stroke="#e4162e" stroke-width="0.85" transform="rotate(92 248.8 476.9)"/>
<ellipse cx="248.8" cy="476.9" rx="1.7" ry="2.0" fill="#8d6ab0" opacity="0.85" transform="rotate(92 248.8 476.9)"/>
<ellipse cx="184.5" cy="441.9" rx="3.1" ry="3.6" fill="#e58ccc" fill-opacity="0.45" stroke="#e4162e" stroke-width="0.85" transform="rotate(81 184.5 441.9)"/>
<ellipse cx="184.5" cy="441.9" rx="1.5" ry="2.0" fill="#8d6ab0" opacity="0.85" transform="rotate(81 184.5 441.9)"/>
<ellipse cx="182.1" cy="447.2" rx="3.5" ry="3.4" fill="#e58ccc" fill-opacity="0.45" stroke="#e4162e" stroke-width="0.85" transform="rotate(92 182.1 447.2)"/>
<ellipse cx="182.1" cy="447.2" rx="1.8" ry="1.9" fill="#8d6ab0" opacity="0.85" transform="rotate(92 182.1 447.2)"/>
<ellipse cx="231.5" cy="448.6" rx="3.3" ry="3.7" fill="#e58ccc" fill-opacity="0.45" stroke="#e4162e" stroke-width="0.85" transform="rotate(48 231.5 448.6)"/>
<ellipse cx="231.5" cy="448.6" rx="1.7" ry="2.0" fill="#8d6ab0" opacity="0.85" transform="rotate(48 231.5 448.6)"/>
<ellipse cx="230.7" cy="455.9" rx="3.3" ry="3.7" fill="#e58ccc" fill-opacity="0.45" stroke="#e4162e" stroke-width="0.85" transform="rotate(89 230.7 455.9)"/>
<ellipse cx="230.7" cy="455.9" rx="1.6" ry="2.1" fill="#8d6ab0" opacity="0.85" transform="rotate(89 230.7 455.9)"/>
<ellipse cx="210.9" cy="476.4" rx="3.1" ry="3.7" fill="#e58ccc" fill-opacity="0.45" stroke="#e4162e" stroke-width="0.85" transform="rotate(82 210.9 476.4)"/>
<ellipse cx="210.9" cy="476.4" rx="1.6" ry="2.0" fill="#8d6ab0" opacity="0.85" transform="rotate(82 210.9 476.4)"/>
<ellipse cx="213.0" cy="500.3" rx="3.7" ry="3.7" fill="#e58ccc" fill-opacity="0.45" stroke="#e4162e" stroke-width="0.85" transform="rotate(15 213.0 500.3)"/>
<ellipse cx="213.0" cy="500.3" rx="1.9" ry="2.0" fill="#8d6ab0" opacity="0.85" transform="rotate(15 213.0 500.3)"/>
<ellipse cx="212.9" cy="481.0" rx="3.2" ry="3.7" fill="#e58ccc" fill-opacity="0.45" stroke="#e4162e" stroke-width="0.85" transform="rotate(67 212.9 481.0)"/>
<ellipse cx="212.9" cy="481.0" rx="1.6" ry="2.0" fill="#8d6ab0" opacity="0.85" transform="rotate(67 212.9 481.0)"/>
<ellipse cx="196.1" cy="470.2" rx="3.2" ry="3.7" fill="#e58ccc" fill-opacity="0.45" stroke="#e4162e" stroke-width="0.85" transform="rotate(3 196.1 470.2)"/>
<ellipse cx="196.1" cy="470.2" rx="1.6" ry="2.0" fill="#8d6ab0" opacity="0.85" transform="rotate(3 196.1 470.2)"/>
<ellipse cx="193.5" cy="403.1" rx="3.4" ry="3.7" fill="#e58ccc" fill-opacity="0.45" stroke="#e4162e" stroke-width="0.85" transform="rotate(2 193.5 403.1)"/>
<ellipse cx="193.5" cy="403.1" rx="1.7" ry="2.0" fill="#8d6ab0" opacity="0.85" transform="rotate(2 193.5 403.1)"/>
<ellipse cx="199.8" cy="411.7" rx="3.1" ry="4.0" fill="#e58ccc" fill-opacity="0.45" stroke="#e4162e" stroke-width="0.85" transform="rotate(82 199.8 411.7)"/>
<ellipse cx="199.8" cy="411.7" rx="1.5" ry="2.2" fill="#8d6ab0" opacity="0.85" transform="rotate(82 199.8 411.7)"/>
<ellipse cx="187.6" cy="473.4" rx="3.2" ry="3.9" fill="#e58ccc" fill-opacity="0.45" stroke="#e4162e" stroke-width="0.85" transform="rotate(0 187.6 473.4)"/>
<ellipse cx="187.6" cy="473.4" rx="1.6" ry="2.1" fill="#8d6ab0" opacity="0.85" transform="rotate(0 187.6 473.4)"/>
<ellipse cx="177.4" cy="480.1" rx="3.7" ry="4.1" fill="#e58ccc" fill-opacity="0.45" stroke="#e4162e" stroke-width="0.85" transform="rotate(117 177.4 480.1)"/>
<ellipse cx="177.4" cy="480.1" rx="1.9" ry="2.3" fill="#8d6ab0" opacity="0.85" transform="rotate(117 177.4 480.1)"/>
<ellipse cx="171.0" cy="415.2" rx="3.3" ry="3.6" fill="#e58ccc" fill-opacity="0.45" stroke="#e4162e" stroke-width="0.85" transform="rotate(88 171.0 415.2)"/>
<ellipse cx="171.0" cy="415.2" rx="1.7" ry="2.0" fill="#8d6ab0" opacity="0.85" transform="rotate(88 171.0 415.2)"/>
<ellipse cx="168.1" cy="430.8" rx="3.2" ry="4.0" fill="#e58ccc" fill-opacity="0.45" stroke="#e4162e" stroke-width="0.85" transform="rotate(60 168.1 430.8)"/>
<ellipse cx="168.1" cy="430.8" rx="1.6" ry="2.2" fill="#8d6ab0" opacity="0.85" transform="rotate(60 168.1 430.8)"/>
<ellipse cx="175.4" cy="416.7" rx="3.7" ry="3.6" fill="#e58ccc" fill-opacity="0.45" stroke="#e4162e" stroke-width="0.85" transform="rotate(51 175.4 416.7)"/>
<ellipse cx="175.4" cy="416.7" rx="1.8" ry="2.0" fill="#8d6ab0" opacity="0.85" transform="rotate(51 175.4 416.7)"/>
<circle cx="233.6" cy="431.1" r="0.9" fill="#d40c28" opacity="0.75"/>
<circle cx="170.8" cy="456.8" r="1.3" fill="#d40c28" opacity="0.75"/>
<circle cx="242.5" cy="437.1" r="1.2" fill="#d40c28" opacity="0.75"/>
<circle cx="278.0" cy="480.8" r="1.8" fill="#d40c28" opacity="0.75"/>
<circle cx="255.6" cy="472.6" r="1.7" fill="#d40c28" opacity="0.75"/>
<circle cx="260.0" cy="482.1" r="1.3" fill="#d40c28" opacity="0.75"/>
<circle cx="193.2" cy="397.5" r="1.8" fill="#d40c28" opacity="0.75"/>
<circle cx="230.0" cy="468.3" r="1.3" fill="#d40c28" opacity="0.75"/>
<circle cx="250.4" cy="408.3" r="1.1" fill="#d40c28" opacity="0.75"/>
<circle cx="191.7" cy="404.0" r="1.0" fill="#d40c28" opacity="0.75"/>
<circle cx="244.2" cy="391.3" r="1.1" fill="#d40c28" opacity="0.75"/>
<circle cx="225.5" cy="468.9" r="1.5" fill="#d40c28" opacity="0.75"/>
<circle cx="208.7" cy="446.3" r="1.4" fill="#d40c28" opacity="0.75"/>
<circle cx="204.1" cy="389.5" r="1.0" fill="#d40c28" opacity="0.75"/>
<circle cx="217.2" cy="394.8" r="1.4" fill="#d40c28" opacity="0.75"/>
<circle cx="165.5" cy="432.7" r="1.0" fill="#d40c28" opacity="0.75"/>
<circle cx="250.3" cy="450.5" r="1.3" fill="#d40c28" opacity="0.75"/>
<circle cx="249.3" cy="386.6" r="1.6" fill="#d40c28" opacity="0.75"/>
</g>
<rect x="172.3" y="389.5" width="101.2" height="98.8" fill="none" stroke="#111" stroke-width="1"/>
</g>
<g id="tpef-mosaic">
<rect x="391" y="9.5" width="123" height="142.5" fill="#000"/>
<g clip-path="url(#cpBoxR)"><use href="#blobR" fill="#c2120c"/></g>
<g clip-path="url(#cpBoxR)"><g clip-path="url(#cpR)">
<rect x="388.5" y="9" width="21.3" height="144" fill="url(#bandg)" opacity="0.35"/>
<rect x="409.8" y="9" width="20.9" height="144" fill="url(#bandg)" opacity="0.4"/>
<rect x="430.7" y="9" width="20.9" height="144" fill="url(#bandg)" opacity="0.45"/>
<rect x="451.6" y="9" width="21.8" height="144" fill="url(#bandg)" opacity="0.62"/>
<rect x="473.4" y="9" width="22.8" height="144" fill="url(#bandg)" opacity="0.55"/>
<rect x="496.2" y="9" width="18.8" height="144" fill="url(#bandg)" opacity="0.18"/>
<rect x="451.6" y="9" width="21.8" height="144" fill="#300" opacity="0.14"/>
<rect x="391" y="9" width="124" height="144" filter="url(#nzR)" opacity="0.55"/>
<rect x="391" y="9" width="124" height="144" filter="url(#nzRb)" opacity="0.35"/>
<ellipse cx="506" cy="80" rx="9" ry="34" fill="#f0140c" opacity="0.45"/>
<ellipse cx="428" cy="140" rx="20" ry="9" fill="#ee160e" opacity="0.3"/>
<circle cx="423.8" cy="109.0" r="0.45" fill="#e8b020" opacity="0.8"/>
<circle cx="437.0" cy="114.4" r="0.45" fill="#e8b020" opacity="0.8"/>
<circle cx="462.6" cy="65.9" r="0.45" fill="#e8b020" opacity="0.8"/>
<circle cx="401.3" cy="135.4" r="0.45" fill="#e8b020" opacity="0.8"/>
<circle cx="425.9" cy="81.1" r="0.45" fill="#e8b020" opacity="0.8"/>
<circle cx="499.6" cy="102.3" r="0.45" fill="#e8b020" opacity="0.8"/>
<circle cx="483.6" cy="102.9" r="0.45" fill="#e8b020" opacity="0.8"/>
<circle cx="463.9" cy="73.6" r="0.45" fill="#e8b020" opacity="0.8"/>
<circle cx="463.5" cy="138.1" r="0.45" fill="#e8b020" opacity="0.8"/>
<circle cx="452.3" cy="126.7" r="0.45" fill="#e8b020" opacity="0.8"/>
<circle cx="467.1" cy="65.8" r="0.45" fill="#e8b020" opacity="0.8"/>
<circle cx="475.8" cy="113.2" r="0.45" fill="#e8b020" opacity="0.8"/>
<circle cx="430.1" cy="62.8" r="0.45" fill="#e8b020" opacity="0.8"/>
<circle cx="486.6" cy="102.5" r="0.45" fill="#e8b020" opacity="0.8"/>
<circle cx="471.9" cy="139.1" r="0.45" fill="#e8b020" opacity="0.8"/>
<circle cx="471.4" cy="142.9" r="0.45" fill="#e8b020" opacity="0.8"/>
<circle cx="439.5" cy="132.1" r="0.45" fill="#e8b020" opacity="0.8"/>
<circle cx="444.5" cy="144.2" r="0.45" fill="#e8b020" opacity="0.8"/>
<circle cx="487.9" cy="68.8" r="0.45" fill="#e8b020" opacity="0.8"/>
<circle cx="413.6" cy="79.5" r="0.45" fill="#e8b020" opacity="0.8"/>
<circle cx="496.5" cy="99.3" r="0.45" fill="#e8b020" opacity="0.8"/>
<circle cx="462.7" cy="87.1" r="0.45" fill="#e8b020" opacity="0.8"/>
<circle cx="450.7" cy="94.7" r="0.45" fill="#e8b020" opacity="0.8"/>
<circle cx="435.1" cy="112.7" r="0.45" fill="#e8b020" opacity="0.8"/>
<circle cx="458.4" cy="141.4" r="0.45" fill="#e8b020" opacity="0.8"/>
<circle cx="468.2" cy="143.6" r="0.45" fill="#e8b020" opacity="0.8"/>
<circle cx="485.6" cy="149.2" r="0.45" fill="#e8b020" opacity="0.8"/>
<circle cx="467.1" cy="74.7" r="0.45" fill="#e8b020" opacity="0.8"/>
<circle cx="486.1" cy="146.8" r="0.45" fill="#e8b020" opacity="0.8"/>
<circle cx="490.5" cy="111.2" r="0.45" fill="#e8b020" opacity="0.8"/>
<circle cx="471.4" cy="79.0" r="0.45" fill="#e8b020" opacity="0.8"/>
<circle cx="483.2" cy="111.6" r="0.45" fill="#e8b020" opacity="0.8"/>
<circle cx="428.5" cy="65.7" r="0.45" fill="#e8b020" opacity="0.8"/>
<circle cx="485.4" cy="149.1" r="0.45" fill="#e8b020" opacity="0.8"/>
<circle cx="408.9" cy="132.1" r="0.45" fill="#e8b020" opacity="0.8"/>
<circle cx="441.0" cy="73.6" r="0.45" fill="#e8b020" opacity="0.8"/>
<circle cx="429.4" cy="129.2" r="0.45" fill="#e8b020" opacity="0.8"/>
<circle cx="487.3" cy="64.0" r="0.45" fill="#e8b020" opacity="0.8"/>
<circle cx="461.5" cy="64.0" r="0.45" fill="#e8b020" opacity="0.8"/>
<circle cx="471.8" cy="89.8" r="0.45" fill="#e8b020" opacity="0.8"/>
<circle cx="488.1" cy="148.3" r="0.45" fill="#e8b020" opacity="0.8"/>
<circle cx="450.5" cy="149.9" r="0.45" fill="#e8b020" opacity="0.8"/>
<circle cx="431.0" cy="66.9" r="0.45" fill="#e8b020" opacity="0.8"/>
<circle cx="460.0" cy="62.8" r="0.45" fill="#e8b020" opacity="0.8"/>
<circle cx="419.7" cy="96.7" r="0.45" fill="#e8b020" opacity="0.8"/>
<circle cx="461.0" cy="74.1" r="0.45" fill="#e8b020" opacity="0.8"/>
<circle cx="404.2" cy="138.1" r="0.45" fill="#e8b020" opacity="0.8"/>
<circle cx="431.4" cy="146.3" r="0.45" fill="#e8b020" opacity="0.8"/>
<circle cx="489.7" cy="94.0" r="0.45" fill="#e8b020" opacity="0.8"/>
<circle cx="446.0" cy="106.8" r="0.45" fill="#e8b020" opacity="0.8"/>
<circle cx="464.4" cy="113.6" r="0.45" fill="#e8b020" opacity="0.8"/>
<circle cx="455.9" cy="115.8" r="0.45" fill="#e8b020" opacity="0.8"/>
<circle cx="494.1" cy="105.6" r="0.45" fill="#e8b020" opacity="0.8"/>
<circle cx="443.1" cy="124.8" r="0.45" fill="#e8b020" opacity="0.8"/>
<circle cx="423.8" cy="87.1" r="0.45" fill="#e8b020" opacity="0.8"/>
<circle cx="497.8" cy="106.9" r="0.45" fill="#e8b020" opacity="0.8"/>
<circle cx="454.8" cy="61.0" r="0.45" fill="#e8b020" opacity="0.8"/>
<circle cx="441.5" cy="112.2" r="0.45" fill="#e8b020" opacity="0.8"/>
<circle cx="402.0" cy="115.4" r="0.45" fill="#e8b020" opacity="0.8"/>
<circle cx="463.2" cy="65.4" r="0.45" fill="#e8b020" opacity="0.8"/>
<path d="M415,122 l3,-2.5 l2,-0.5" stroke="#e8a020" stroke-width="0.8" fill="none"/>
</g></g>
<rect x="420.8" y="37.6" width="15.5" height="15.8" fill="#f08a48" stroke="#201008" stroke-width="0.8"/>
<rect x="473.3" y="60.1" width="15.5" height="15.8" fill="#f08a48" stroke="#201008" stroke-width="0.8"/>
<rect x="434.6" y="106.3" width="15.5" height="15.8" fill="#f08a48" stroke="#201008" stroke-width="0.8"/>
<g fill="none" stroke="#0a0a0a" stroke-width="1.05">
<path d="M421.8,53.4 C409,68 401,90 399,104 C396,124 394.5,144 402.2,160" marker-end="url(#ahs)"/>
<path d="M482.5,76 C486,98 487,124 479,152 C474,164 468,171 461.5,176" marker-end="url(#ahs)"/>
<path d="M450,121.5 C464,130 476,144 482,156 C489,172 484,186 470.3,194.5" marker-end="url(#ahs)"/>
</g>
</g>
<g id="tpef-patches">
<clipPath id="cpR0"><rect x="403" y="180.1" width="66.2" height="64.1"/></clipPath>
<rect x="403" y="180.1" width="66.2" height="64.1" fill="#961c12"/>
<g clip-path="url(#cpR0)"><rect x="403" y="180.1" width="66.2" height="64.1" filter="url(#nzR2)" opacity="0.55"/>
<circle cx="463.0" cy="224.1" r="1.4" fill="#4a0c08" opacity="0.7"/>
<circle cx="462.9" cy="196.8" r="1.3" fill="#4a0c08" opacity="0.7"/>
<circle cx="462.9" cy="236.0" r="1.3" fill="#4a0c08" opacity="0.7"/>
<circle cx="414.2" cy="206.5" r="1.6" fill="#4a0c08" opacity="0.7"/>
<circle cx="409.8" cy="200.6" r="1.6" fill="#4a0c08" opacity="0.7"/>
<circle cx="432.8" cy="193.5" r="1.1" fill="#4a0c08" opacity="0.7"/>
<circle cx="463.2" cy="201.6" r="1.1" fill="#4a0c08" opacity="0.7"/>
<circle cx="444.6" cy="231.7" r="1.2" fill="#4a0c08" opacity="0.7"/>
<circle cx="408.4" cy="216.8" r="0.8" fill="#4a0c08" opacity="0.7"/>
<circle cx="409.3" cy="192.3" r="1.4" fill="#4a0c08" opacity="0.7"/>
<circle cx="421.8" cy="224.3" r="0.9" fill="#4a0c08" opacity="0.7"/>
<circle cx="410.8" cy="181.6" r="1.4" fill="#4a0c08" opacity="0.7"/>
<circle cx="459.9" cy="194.2" r="1.0" fill="#4a0c08" opacity="0.7"/>
<circle cx="403.9" cy="221.4" r="1.0" fill="#4a0c08" opacity="0.7"/>
<circle cx="412.1" cy="221.6" r="1.3" fill="#4a0c08" opacity="0.7"/>
<circle cx="432.6" cy="189.9" r="1.3" fill="#4a0c08" opacity="0.7"/>
<circle cx="439.8" cy="207.8" r="0.9" fill="#4a0c08" opacity="0.7"/>
<circle cx="464.5" cy="235.4" r="1.4" fill="#4a0c08" opacity="0.7"/>
<circle cx="468.9" cy="217.3" r="1.1" fill="#4a0c08" opacity="0.7"/>
<circle cx="410.7" cy="219.1" r="1.2" fill="#4a0c08" opacity="0.7"/>
<circle cx="431.9" cy="243.7" r="1.5" fill="#4a0c08" opacity="0.7"/>
<circle cx="410.6" cy="236.8" r="0.8" fill="#4a0c08" opacity="0.7"/>
<circle cx="446.1" cy="200.3" r="1.4" fill="#4a0c08" opacity="0.7"/>
<circle cx="466.1" cy="214.1" r="1.4" fill="#4a0c08" opacity="0.7"/>
<circle cx="406.6" cy="222.9" r="0.9" fill="#4a0c08" opacity="0.7"/>
<circle cx="433.1" cy="201.5" r="0.9" fill="#4a0c08" opacity="0.7"/>
<circle cx="452.5" cy="186.1" r="1.0" fill="#4a0c08" opacity="0.7"/>
<circle cx="408.7" cy="222.6" r="1.0" fill="#4a0c08" opacity="0.7"/>
</g>
<rect x="403" y="180.1" width="66.2" height="64.1" fill="none" stroke="#100" stroke-width="1.1"/>
<clipPath id="cpR1"><rect x="395" y="170.5" width="65" height="65.7"/></clipPath>
<rect x="395" y="170.5" width="65" height="65.7" fill="#961c12"/>
<g clip-path="url(#cpR1)"><rect x="395" y="170.5" width="65" height="65.7" filter="url(#nzR2)" opacity="0.55"/>
<circle cx="405.7" cy="215.8" r="1.3" fill="#4a0c08" opacity="0.7"/>
<circle cx="426.1" cy="184.7" r="1.4" fill="#4a0c08" opacity="0.7"/>
<circle cx="447.5" cy="204.2" r="1.2" fill="#4a0c08" opacity="0.7"/>
<circle cx="410.3" cy="170.7" r="1.1" fill="#4a0c08" opacity="0.7"/>
<circle cx="433.0" cy="175.1" r="1.4" fill="#4a0c08" opacity="0.7"/>
<circle cx="410.1" cy="185.8" r="0.8" fill="#4a0c08" opacity="0.7"/>
<circle cx="459.8" cy="219.0" r="1.5" fill="#4a0c08" opacity="0.7"/>
<circle cx="435.0" cy="172.7" r="1.1" fill="#4a0c08" opacity="0.7"/>
<circle cx="427.3" cy="178.1" r="1.6" fill="#4a0c08" opacity="0.7"/>
<circle cx="418.9" cy="180.7" r="1.5" fill="#4a0c08" opacity="0.7"/>
<circle cx="403.1" cy="231.5" r="1.2" fill="#4a0c08" opacity="0.7"/>
<circle cx="430.9" cy="193.0" r="1.2" fill="#4a0c08" opacity="0.7"/>
<circle cx="407.1" cy="172.9" r="1.5" fill="#4a0c08" opacity="0.7"/>
<circle cx="410.3" cy="221.8" r="1.0" fill="#4a0c08" opacity="0.7"/>
<circle cx="458.0" cy="229.2" r="1.4" fill="#4a0c08" opacity="0.7"/>
<circle cx="444.6" cy="208.7" r="1.4" fill="#4a0c08" opacity="0.7"/>
<circle cx="403.0" cy="201.8" r="1.5" fill="#4a0c08" opacity="0.7"/>
<circle cx="408.1" cy="231.2" r="1.5" fill="#4a0c08" opacity="0.7"/>
<circle cx="421.6" cy="194.5" r="1.2" fill="#4a0c08" opacity="0.7"/>
<circle cx="420.1" cy="235.9" r="1.1" fill="#4a0c08" opacity="0.7"/>
<circle cx="396.7" cy="176.6" r="1.4" fill="#4a0c08" opacity="0.7"/>
<circle cx="459.5" cy="203.1" r="1.2" fill="#4a0c08" opacity="0.7"/>
<circle cx="430.8" cy="219.7" r="1.0" fill="#4a0c08" opacity="0.7"/>
<circle cx="434.6" cy="207.1" r="1.3" fill="#4a0c08" opacity="0.7"/>
<circle cx="406.7" cy="181.7" r="1.1" fill="#4a0c08" opacity="0.7"/>
<circle cx="455.3" cy="193.3" r="1.3" fill="#4a0c08" opacity="0.7"/>
<circle cx="414.9" cy="177.3" r="0.9" fill="#4a0c08" opacity="0.7"/>
<circle cx="447.9" cy="221.6" r="1.1" fill="#4a0c08" opacity="0.7"/>
</g>
<rect x="395" y="170.5" width="65" height="65.7" fill="none" stroke="#100" stroke-width="1.1"/>
<clipPath id="cpR2"><rect x="387" y="161.4" width="64.2" height="65.7"/></clipPath>
<rect x="387" y="161.4" width="64.2" height="65.7" fill="#961c12"/>
<g clip-path="url(#cpR2)"><rect x="387" y="161.4" width="64.2" height="65.7" filter="url(#nzR2)" opacity="0.55"/>
<circle cx="448.5" cy="170.6" r="0.8" fill="#4a0c08" opacity="0.7"/>
<circle cx="451.1" cy="173.5" r="0.9" fill="#4a0c08" opacity="0.7"/>
<circle cx="428.8" cy="184.1" r="1.5" fill="#4a0c08" opacity="0.7"/>
<circle cx="401.9" cy="224.4" r="1.1" fill="#4a0c08" opacity="0.7"/>
<circle cx="425.6" cy="222.6" r="1.3" fill="#4a0c08" opacity="0.7"/>
<circle cx="446.3" cy="207.9" r="0.8" fill="#4a0c08" opacity="0.7"/>
<circle cx="443.6" cy="200.1" r="1.0" fill="#4a0c08" opacity="0.7"/>
<circle cx="399.2" cy="217.2" r="1.3" fill="#4a0c08" opacity="0.7"/>
<circle cx="447.2" cy="212.2" r="1.6" fill="#4a0c08" opacity="0.7"/>
<circle cx="423.4" cy="207.3" r="1.3" fill="#4a0c08" opacity="0.7"/>
<circle cx="403.6" cy="224.3" r="1.0" fill="#4a0c08" opacity="0.7"/>
<circle cx="437.1" cy="224.1" r="1.3" fill="#4a0c08" opacity="0.7"/>
<circle cx="396.1" cy="215.6" r="1.3" fill="#4a0c08" opacity="0.7"/>
<circle cx="398.9" cy="164.6" r="1.2" fill="#4a0c08" opacity="0.7"/>
<circle cx="389.1" cy="222.2" r="1.2" fill="#4a0c08" opacity="0.7"/>
<circle cx="420.2" cy="188.3" r="1.3" fill="#4a0c08" opacity="0.7"/>
<circle cx="445.8" cy="181.6" r="1.1" fill="#4a0c08" opacity="0.7"/>
<circle cx="424.4" cy="180.9" r="1.3" fill="#4a0c08" opacity="0.7"/>
<circle cx="421.9" cy="189.9" r="1.3" fill="#4a0c08" opacity="0.7"/>
<circle cx="420.9" cy="167.2" r="1.6" fill="#4a0c08" opacity="0.7"/>
<circle cx="409.8" cy="189.8" r="1.1" fill="#4a0c08" opacity="0.7"/>
<circle cx="446.7" cy="224.0" r="1.2" fill="#4a0c08" opacity="0.7"/>
<circle cx="412.7" cy="167.7" r="1.5" fill="#4a0c08" opacity="0.7"/>
<circle cx="398.0" cy="197.3" r="1.1" fill="#4a0c08" opacity="0.7"/>
<circle cx="408.1" cy="184.9" r="1.0" fill="#4a0c08" opacity="0.7"/>
<circle cx="389.4" cy="196.6" r="1.4" fill="#4a0c08" opacity="0.7"/>
<circle cx="428.5" cy="174.6" r="1.4" fill="#4a0c08" opacity="0.7"/>
<circle cx="390.3" cy="188.4" r="1.5" fill="#4a0c08" opacity="0.7"/>
<path d="M426.5,166.0 l2.5,-1.2 l2.5,0.6 l2,-1.6 l2,0.4" stroke="#f2cc1c" stroke-width="2.2" stroke-linecap="round" fill="none"/><circle cx="437.5" cy="163.8" r="0.9" fill="#e8b020"/><circle cx="430" cy="167.6" r="0.8" fill="#f0a020"/>
<circle cx="397.5" cy="215.9" r="1.6" fill="#f09020"/><circle cx="416" cy="202.9" r="0.8" fill="#e07020"/>
</g>
<rect x="387" y="161.4" width="64.2" height="65.7" fill="none" stroke="#100" stroke-width="1.1"/>
</g>
<text x="546" y="201.5" font-size="11" text-anchor="middle" fill="#222" textLength="114.6" lengthAdjust="spacingAndGlyphs" >100+ TPEF patches from</text>
<text x="546" y="213.7" font-size="11" text-anchor="middle" fill="#222" textLength="105.8" lengthAdjust="spacingAndGlyphs" >each mosaic analysed</text>
<text x="546" y="225.5" font-size="11" text-anchor="middle" fill="#222" textLength="58" lengthAdjust="spacingAndGlyphs" >sequentially</text>
<text x="390.5" y="281.2" font-size="11" fill="#222" textLength="23.2" lengthAdjust="spacingAndGlyphs">PMT<tspan font-size="6.5" dy="2.2">1</tspan></text>
<text x="455.8" y="281.2" font-size="11" fill="#222" textLength="24.2" lengthAdjust="spacingAndGlyphs">PMT<tspan font-size="6.5" dy="2.2">2</tspan></text>
<g id="pmt">
<clipPath id="cpP0"><rect x="403" y="303.8" width="132.5" height="64.39999999999998"/></clipPath>
<rect x="403" y="303.8" width="65.80000000000001" height="64.39999999999998" fill="#a61a1a"/>
<rect x="468.8" y="303.8" width="66.69999999999999" height="64.39999999999998" fill="#030a03"/>
<g clip-path="url(#cpP0)">
<rect x="403" y="303.8" width="65.80000000000001" height="64.39999999999998" filter="url(#nzR2)" opacity="0.5"/>
<circle cx="433.2" cy="360.3" r="0.8" fill="#5a0c0c" opacity="0.7"/>
<circle cx="421.6" cy="365.7" r="1.3" fill="#5a0c0c" opacity="0.7"/>
<circle cx="411.4" cy="326.2" r="1.4" fill="#5a0c0c" opacity="0.7"/>
<circle cx="432.0" cy="305.6" r="1.4" fill="#5a0c0c" opacity="0.7"/>
<circle cx="411.5" cy="345.1" r="1.2" fill="#5a0c0c" opacity="0.7"/>
<circle cx="433.3" cy="365.8" r="0.9" fill="#5a0c0c" opacity="0.7"/>
<circle cx="442.8" cy="311.1" r="1.5" fill="#5a0c0c" opacity="0.7"/>
<circle cx="412.5" cy="336.8" r="1.4" fill="#5a0c0c" opacity="0.7"/>
<circle cx="461.1" cy="310.1" r="1.4" fill="#5a0c0c" opacity="0.7"/>
<circle cx="458.4" cy="324.1" r="1.3" fill="#5a0c0c" opacity="0.7"/>
<circle cx="417.9" cy="313.7" r="0.9" fill="#5a0c0c" opacity="0.7"/>
<circle cx="423.3" cy="357.0" r="1.1" fill="#5a0c0c" opacity="0.7"/>
<circle cx="468.1" cy="361.4" r="0.9" fill="#5a0c0c" opacity="0.7"/>
<circle cx="431.5" cy="307.9" r="1.2" fill="#5a0c0c" opacity="0.7"/>
<circle cx="443.1" cy="341.5" r="0.9" fill="#5a0c0c" opacity="0.7"/>
<circle cx="443.2" cy="311.0" r="1.4" fill="#5a0c0c" opacity="0.7"/>
<circle cx="433.4" cy="310.2" r="1.5" fill="#5a0c0c" opacity="0.7"/>
<circle cx="465.1" cy="325.2" r="1.5" fill="#5a0c0c" opacity="0.7"/>
<circle cx="421.8" cy="338.1" r="1.2" fill="#5a0c0c" opacity="0.7"/>
<circle cx="455.0" cy="308.3" r="0.8" fill="#5a0c0c" opacity="0.7"/>
<circle cx="412.8" cy="328.6" r="1.4" fill="#5a0c0c" opacity="0.7"/>
<circle cx="450.6" cy="310.7" r="1.3" fill="#5a0c0c" opacity="0.7"/>
<circle cx="415.5" cy="305.0" r="1.1" fill="#5a0c0c" opacity="0.7"/>
<circle cx="462.9" cy="362.1" r="1.1" fill="#5a0c0c" opacity="0.7"/>
<circle cx="455.5" cy="316.3" r="0.9" fill="#5a0c0c" opacity="0.7"/>
<circle cx="466.1" cy="347.0" r="0.9" fill="#5a0c0c" opacity="0.7"/>
<circle cx="491.3" cy="353.6" r="0.3" fill="#20c030" opacity="0.41"/>
<circle cx="522.4" cy="319.0" r="0.5" fill="#20c030" opacity="0.56"/>
<circle cx="500.6" cy="323.7" r="0.4" fill="#20c030" opacity="0.78"/>
<circle cx="519.4" cy="364.8" r="0.3" fill="#20c030" opacity="0.39"/>
<circle cx="525.7" cy="323.9" r="0.6" fill="#20c030" opacity="0.48"/>
<circle cx="495.1" cy="346.9" r="0.5" fill="#20c030" opacity="0.62"/>
<circle cx="471.2" cy="358.8" r="0.5" fill="#20c030" opacity="0.45"/>
<circle cx="500.5" cy="344.9" r="0.7" fill="#20c030" opacity="0.31"/>
<circle cx="530.6" cy="341.7" r="0.3" fill="#20c030" opacity="0.52"/>
<circle cx="517.1" cy="311.0" r="0.5" fill="#20c030" opacity="0.64"/>
<circle cx="507.1" cy="305.5" r="0.3" fill="#20c030" opacity="0.88"/>
<circle cx="479.8" cy="315.8" r="0.5" fill="#20c030" opacity="0.31"/>
<circle cx="517.6" cy="353.0" r="0.4" fill="#20c030" opacity="0.66"/>
<circle cx="501.1" cy="348.0" r="0.4" fill="#20c030" opacity="0.32"/>
<circle cx="475.1" cy="363.9" r="0.7" fill="#20c030" opacity="0.46"/>
<circle cx="517.5" cy="318.7" r="0.5" fill="#20c030" opacity="0.53"/>
<circle cx="506.2" cy="362.4" r="0.6" fill="#20c030" opacity="0.86"/>
<circle cx="524.2" cy="334.5" r="0.4" fill="#20c030" opacity="0.80"/>
<circle cx="511.9" cy="313.1" r="0.5" fill="#20c030" opacity="0.33"/>
<circle cx="520.6" cy="364.2" r="0.3" fill="#20c030" opacity="0.68"/>
<circle cx="528.6" cy="361.3" r="0.6" fill="#20c030" opacity="0.37"/>
<circle cx="506.2" cy="325.7" r="0.5" fill="#20c030" opacity="0.51"/>
<circle cx="482.9" cy="342.2" r="0.3" fill="#20c030" opacity="0.38"/>
<circle cx="510.2" cy="351.4" r="0.3" fill="#20c030" opacity="0.34"/>
<circle cx="497.2" cy="309.7" r="0.7" fill="#20c030" opacity="0.48"/>
<circle cx="469.7" cy="335.0" r="0.5" fill="#20c030" opacity="0.56"/>
<circle cx="507.2" cy="308.5" r="0.4" fill="#20c030" opacity="0.66"/>
<circle cx="471.1" cy="332.1" r="0.4" fill="#20c030" opacity="0.75"/>
<circle cx="503.7" cy="342.5" r="0.4" fill="#20c030" opacity="0.60"/>
<circle cx="500.2" cy="334.2" r="0.5" fill="#20c030" opacity="0.60"/>
</g>
<rect x="403" y="303.8" width="65.80000000000001" height="64.39999999999998" fill="none" stroke="#100" stroke-width="1"/>
<clipPath id="cpP1"><rect x="395" y="294.3" width="130" height="65.69999999999999"/></clipPath>
<rect x="395" y="294.3" width="64.60000000000002" height="65.69999999999999" fill="#a61a1a"/>
<rect x="459.6" y="294.3" width="65.39999999999998" height="65.69999999999999" fill="#030a03"/>
<g clip-path="url(#cpP1)">
<rect x="395" y="294.3" width="64.60000000000002" height="65.69999999999999" filter="url(#nzR2)" opacity="0.5"/>
<circle cx="419.6" cy="309.5" r="0.9" fill="#5a0c0c" opacity="0.7"/>
<circle cx="454.0" cy="332.3" r="1.3" fill="#5a0c0c" opacity="0.7"/>
<circle cx="430.7" cy="319.5" r="1.3" fill="#5a0c0c" opacity="0.7"/>
<circle cx="432.2" cy="345.6" r="1.3" fill="#5a0c0c" opacity="0.7"/>
<circle cx="449.2" cy="323.2" r="0.9" fill="#5a0c0c" opacity="0.7"/>
<circle cx="404.7" cy="341.8" r="0.9" fill="#5a0c0c" opacity="0.7"/>
<circle cx="437.3" cy="335.1" r="0.8" fill="#5a0c0c" opacity="0.7"/>
<circle cx="445.7" cy="296.5" r="1.4" fill="#5a0c0c" opacity="0.7"/>
<circle cx="449.3" cy="308.5" r="1.3" fill="#5a0c0c" opacity="0.7"/>
<circle cx="442.3" cy="302.5" r="1.3" fill="#5a0c0c" opacity="0.7"/>
<circle cx="403.0" cy="354.3" r="1.3" fill="#5a0c0c" opacity="0.7"/>
<circle cx="458.3" cy="297.8" r="1.0" fill="#5a0c0c" opacity="0.7"/>
<circle cx="435.0" cy="334.3" r="0.9" fill="#5a0c0c" opacity="0.7"/>
<circle cx="452.4" cy="349.9" r="1.0" fill="#5a0c0c" opacity="0.7"/>
<circle cx="404.4" cy="338.2" r="1.1" fill="#5a0c0c" opacity="0.7"/>
<circle cx="437.9" cy="326.7" r="1.1" fill="#5a0c0c" opacity="0.7"/>
<circle cx="396.4" cy="303.2" r="1.1" fill="#5a0c0c" opacity="0.7"/>
<circle cx="442.0" cy="322.3" r="1.3" fill="#5a0c0c" opacity="0.7"/>
<circle cx="429.9" cy="352.1" r="1.3" fill="#5a0c0c" opacity="0.7"/>
<circle cx="415.8" cy="303.4" r="0.8" fill="#5a0c0c" opacity="0.7"/>
<circle cx="397.6" cy="351.0" r="1.4" fill="#5a0c0c" opacity="0.7"/>
<circle cx="443.5" cy="301.5" r="1.3" fill="#5a0c0c" opacity="0.7"/>
<circle cx="403.2" cy="352.7" r="1.3" fill="#5a0c0c" opacity="0.7"/>
<circle cx="443.4" cy="334.3" r="1.1" fill="#5a0c0c" opacity="0.7"/>
<circle cx="449.8" cy="357.5" r="1.0" fill="#5a0c0c" opacity="0.7"/>
<circle cx="423.3" cy="342.5" r="1.3" fill="#5a0c0c" opacity="0.7"/>
<circle cx="486.5" cy="323.9" r="0.7" fill="#20c030" opacity="0.47"/>
<circle cx="473.4" cy="339.4" r="0.4" fill="#20c030" opacity="0.84"/>
<circle cx="480.9" cy="355.0" r="0.5" fill="#20c030" opacity="0.83"/>
<circle cx="508.7" cy="342.4" r="0.4" fill="#20c030" opacity="0.40"/>
<circle cx="461.6" cy="306.2" r="0.6" fill="#20c030" opacity="0.34"/>
<circle cx="475.1" cy="331.6" r="0.4" fill="#20c030" opacity="0.50"/>
<circle cx="474.5" cy="338.7" r="0.3" fill="#20c030" opacity="0.90"/>
<circle cx="498.8" cy="341.1" r="0.5" fill="#20c030" opacity="0.60"/>
<circle cx="523.1" cy="353.0" r="0.6" fill="#20c030" opacity="0.32"/>
<circle cx="498.2" cy="356.2" r="0.6" fill="#20c030" opacity="0.61"/>
<circle cx="502.1" cy="305.9" r="0.6" fill="#20c030" opacity="0.77"/>
<circle cx="464.3" cy="327.8" r="0.5" fill="#20c030" opacity="0.51"/>
<circle cx="504.2" cy="354.9" r="0.7" fill="#20c030" opacity="0.48"/>
<circle cx="469.5" cy="350.4" r="0.5" fill="#20c030" opacity="0.80"/>
<circle cx="516.4" cy="312.7" r="0.5" fill="#20c030" opacity="0.48"/>
<circle cx="511.8" cy="339.7" r="0.4" fill="#20c030" opacity="0.60"/>
<circle cx="498.5" cy="309.6" r="0.4" fill="#20c030" opacity="0.58"/>
<circle cx="464.3" cy="326.8" r="0.7" fill="#20c030" opacity="0.80"/>
<circle cx="463.2" cy="348.6" r="0.6" fill="#20c030" opacity="0.72"/>
<circle cx="461.4" cy="344.2" r="0.4" fill="#20c030" opacity="0.78"/>
<circle cx="480.7" cy="318.4" r="0.4" fill="#20c030" opacity="0.82"/>
<circle cx="474.1" cy="351.6" r="0.5" fill="#20c030" opacity="0.39"/>
<circle cx="502.4" cy="329.2" r="0.3" fill="#20c030" opacity="0.79"/>
<circle cx="477.3" cy="295.9" r="0.6" fill="#20c030" opacity="0.74"/>
<circle cx="484.8" cy="306.5" r="0.5" fill="#20c030" opacity="0.65"/>
<circle cx="504.7" cy="326.5" r="0.5" fill="#20c030" opacity="0.73"/>
<circle cx="472.0" cy="306.2" r="0.5" fill="#20c030" opacity="0.75"/>
<circle cx="512.1" cy="350.4" r="0.5" fill="#20c030" opacity="0.73"/>
<circle cx="466.5" cy="319.8" r="0.3" fill="#20c030" opacity="0.80"/>
<circle cx="525.0" cy="338.3" r="0.6" fill="#20c030" opacity="0.52"/>
</g>
<rect x="395" y="294.3" width="64.60000000000002" height="65.69999999999999" fill="none" stroke="#100" stroke-width="1"/>
<clipPath id="cpP2"><rect x="387" y="285.6" width="129.20000000000005" height="66.09999999999997"/></clipPath>
<rect x="387" y="285.6" width="64.19999999999999" height="66.09999999999997" fill="#a61a1a"/>
<rect x="451.2" y="285.6" width="65.00000000000006" height="66.09999999999997" fill="#030a03"/>
<g clip-path="url(#cpP2)">
<rect x="387" y="285.6" width="64.19999999999999" height="66.09999999999997" filter="url(#nzR2)" opacity="0.5"/>
<circle cx="428.1" cy="287.3" r="1.0" fill="#5a0c0c" opacity="0.7"/>
<circle cx="401.3" cy="334.3" r="1.3" fill="#5a0c0c" opacity="0.7"/>
<circle cx="444.3" cy="291.3" r="1.1" fill="#5a0c0c" opacity="0.7"/>
<circle cx="388.9" cy="300.1" r="1.2" fill="#5a0c0c" opacity="0.7"/>
<circle cx="388.7" cy="298.7" r="1.3" fill="#5a0c0c" opacity="0.7"/>
<circle cx="422.0" cy="300.2" r="1.2" fill="#5a0c0c" opacity="0.7"/>
<circle cx="439.0" cy="286.0" r="1.4" fill="#5a0c0c" opacity="0.7"/>
<circle cx="431.8" cy="308.1" r="0.9" fill="#5a0c0c" opacity="0.7"/>
<circle cx="448.5" cy="307.8" r="0.9" fill="#5a0c0c" opacity="0.7"/>
<circle cx="393.2" cy="341.6" r="1.2" fill="#5a0c0c" opacity="0.7"/>
<circle cx="438.8" cy="333.8" r="1.2" fill="#5a0c0c" opacity="0.7"/>
<circle cx="449.5" cy="310.6" r="1.2" fill="#5a0c0c" opacity="0.7"/>
<circle cx="440.2" cy="326.5" r="1.4" fill="#5a0c0c" opacity="0.7"/>
<circle cx="424.1" cy="332.2" r="0.8" fill="#5a0c0c" opacity="0.7"/>
<circle cx="401.6" cy="304.7" r="0.9" fill="#5a0c0c" opacity="0.7"/>
<circle cx="401.9" cy="292.3" r="1.0" fill="#5a0c0c" opacity="0.7"/>
<circle cx="427.8" cy="309.7" r="1.1" fill="#5a0c0c" opacity="0.7"/>
<circle cx="400.5" cy="303.2" r="1.5" fill="#5a0c0c" opacity="0.7"/>
<circle cx="428.6" cy="325.9" r="0.9" fill="#5a0c0c" opacity="0.7"/>
<circle cx="433.8" cy="296.4" r="1.1" fill="#5a0c0c" opacity="0.7"/>
<circle cx="450.5" cy="327.9" r="1.2" fill="#5a0c0c" opacity="0.7"/>
<circle cx="431.0" cy="341.3" r="1.3" fill="#5a0c0c" opacity="0.7"/>
<circle cx="401.7" cy="287.7" r="1.0" fill="#5a0c0c" opacity="0.7"/>
<circle cx="404.2" cy="299.5" r="1.5" fill="#5a0c0c" opacity="0.7"/>
<circle cx="443.3" cy="306.4" r="1.3" fill="#5a0c0c" opacity="0.7"/>
<circle cx="412.4" cy="346.1" r="1.1" fill="#5a0c0c" opacity="0.7"/>
<circle cx="468.4" cy="301.9" r="0.5" fill="#20c030" opacity="0.46"/>
<circle cx="489.2" cy="344.9" r="0.5" fill="#20c030" opacity="0.43"/>
<circle cx="516.0" cy="319.3" r="0.3" fill="#20c030" opacity="0.33"/>
<circle cx="458.3" cy="327.1" r="0.6" fill="#20c030" opacity="0.55"/>
<circle cx="455.3" cy="310.8" r="0.7" fill="#20c030" opacity="0.62"/>
<circle cx="514.3" cy="342.5" r="0.3" fill="#20c030" opacity="0.73"/>
<circle cx="495.5" cy="321.1" r="0.4" fill="#20c030" opacity="0.68"/>
<circle cx="458.5" cy="314.3" r="0.5" fill="#20c030" opacity="0.87"/>
<circle cx="508.1" cy="303.0" r="0.5" fill="#20c030" opacity="0.41"/>
<circle cx="510.5" cy="343.1" r="0.4" fill="#20c030" opacity="0.68"/>
<circle cx="490.8" cy="295.7" r="0.6" fill="#20c030" opacity="0.62"/>
<circle cx="501.8" cy="320.7" r="0.3" fill="#20c030" opacity="0.49"/>
<circle cx="452.5" cy="347.0" r="0.7" fill="#20c030" opacity="0.80"/>
<circle cx="471.2" cy="289.4" r="0.7" fill="#20c030" opacity="0.87"/>
<circle cx="456.8" cy="317.7" r="0.3" fill="#20c030" opacity="0.76"/>
<circle cx="501.0" cy="294.1" r="0.5" fill="#20c030" opacity="0.63"/>
<circle cx="468.4" cy="343.3" r="0.5" fill="#20c030" opacity="0.43"/>
<circle cx="486.3" cy="333.8" r="0.4" fill="#20c030" opacity="0.49"/>
<circle cx="515.9" cy="328.6" r="0.5" fill="#20c030" opacity="0.61"/>
<circle cx="459.1" cy="300.5" r="0.4" fill="#20c030" opacity="0.65"/>
<circle cx="466.2" cy="300.2" r="0.3" fill="#20c030" opacity="0.68"/>
<circle cx="466.1" cy="345.4" r="0.6" fill="#20c030" opacity="0.34"/>
<circle cx="466.7" cy="329.8" r="0.4" fill="#20c030" opacity="0.38"/>
<circle cx="512.0" cy="323.3" r="0.5" fill="#20c030" opacity="0.77"/>
<circle cx="503.7" cy="298.2" r="0.3" fill="#20c030" opacity="0.56"/>
<circle cx="478.7" cy="316.5" r="0.6" fill="#20c030" opacity="0.70"/>
<circle cx="515.2" cy="292.1" r="0.5" fill="#20c030" opacity="0.50"/>
<circle cx="507.2" cy="302.0" r="0.4" fill="#20c030" opacity="0.57"/>
<circle cx="478.6" cy="304.0" r="0.4" fill="#20c030" opacity="0.85"/>
<circle cx="480.0" cy="342.5" r="0.5" fill="#20c030" opacity="0.33"/>
<path d="M427,289.1 l3,-1.5 l3,0.5 l2,-1" stroke="#f02020" stroke-width="1.6" fill="none"/>
<circle cx="397.5" cy="340.6" r="1.7" fill="#f02828"/>
<path d="M491.2,289.6 l3,-1.5 l3,0.5 l3,-1.5 l3,0.5" stroke="#28d838" stroke-width="1.7" fill="none"/>
<circle cx="461.9" cy="340.6" r="1.4" fill="#30d040"/>
</g>
<rect x="387" y="285.6" width="64.19999999999999" height="66.09999999999997" fill="none" stroke="#100" stroke-width="1"/>
</g>
<text x="617.5" y="304.6" font-size="11" text-anchor="middle" fill="#222" textLength="80.4" lengthAdjust="spacingAndGlyphs" >Quantification of</text>
<text x="617.5" y="316.9" font-size="11" text-anchor="middle" fill="#222" textLength="117.4" lengthAdjust="spacingAndGlyphs" >fluorescence intensity in</text>
<text x="558.8" y="328.6" font-size="11" fill="#222" textLength="117.4" lengthAdjust="spacingAndGlyphs">PMT<tspan font-size="7" dy="2.2">1</tspan><tspan dy="-2.2"> and PMT</tspan><tspan font-size="7" dy="2.2">2</tspan><tspan dy="-2.2"> channels</tspan></text>
<text x="450.3" y="427.5" font-size="11.7" text-anchor="middle" fill="#222" textLength="150.8" lengthAdjust="spacingAndGlyphs" >Total fluorescence intensity =</text>
<g id="formula" fill="#222">
<text x="387.2" y="439.8" font-size="7" text-anchor="middle">1</text>
<path d="M370.2,442.9 H406" stroke="#222" stroke-width="0.6"/>
<text x="369.5" y="453" font-size="7.6" textLength="37" lengthAdjust="spacingAndGlyphs">|{<tspan font-style="italic">Patches</tspan>}|</text>
<text x="407.8" y="446.3" font-size="12.5" textLength="7.6" lengthAdjust="spacingAndGlyphs">∑</text>
<text x="416" y="450" font-size="7.6" textLength="32" lengthAdjust="spacingAndGlyphs">{<tspan font-style="italic">Patches</tspan>}</text>
<text x="451.8" y="446.2" font-size="11.5" font-style="italic" textLength="25" lengthAdjust="spacingAndGlyphs">PMT<tspan font-size="7.5" dy="2.3" font-style="normal">1</tspan></text>
<path d="M452.5,435.4 H476.8" stroke="#222" stroke-width="0.7"/>
<text x="480" y="446.2" font-size="11.5" textLength="22.5" lengthAdjust="spacingAndGlyphs">– α ×</text>
<text x="507" y="446.2" font-size="11.5" font-style="italic" textLength="25.3" lengthAdjust="spacingAndGlyphs">PMT<tspan font-size="7.5" dy="2.3" font-style="normal">2</tspan></text>
<path d="M507.5,435.4 H530.5" stroke="#222" stroke-width="0.7"/>
</g>
<g id="scatter">
<text x="153.8" y="586.2" font-size="11" text-anchor="middle" fill="#222" textLength="143" lengthAdjust="spacingAndGlyphs" >PpIX intensity and cell density</text>
<rect x="36.6" y="592.3" width="233.70000000000002" height="218.0" fill="#fff"/>
<g stroke="#f3f3f3" stroke-width="0.5">
<path d="M36.6,778.0 H270.3"/>
<path d="M36.6,730.9 H270.3"/>
<path d="M36.6,683.8 H270.3"/>
<path d="M36.6,636.6 H270.3"/>
<path d="M101.5,592.3 V810.3"/>
<path d="M171.5,592.3 V810.3"/>
<path d="M241.5,592.3 V810.3"/>
</g><g stroke="#ebebeb" stroke-width="0.8">
<path d="M36.6,801.5 H270.3"/>
<path d="M36.6,754.4 H270.3"/>
<path d="M36.6,707.3 H270.3"/>
<path d="M36.6,660.2 H270.3"/>
<path d="M36.6,613.1 H270.3"/>
<path d="M66.5,592.3 V810.3"/>
<path d="M136.5,592.3 V810.3"/>
<path d="M206.5,592.3 V810.3"/>
</g>
<rect x="36.6" y="592.3" width="233.70000000000002" height="218.0" fill="none" stroke="#8a8a8a" stroke-width="0.8"/>
<path d="M36.6,592.3 V810.3 H270.3" fill="none" stroke="#4a4a4a" stroke-width="0.9"/>
<g stroke="#4d4d4d" stroke-width="0.8">
<path d="M32.6,801.5 H36.6"/>
<path d="M32.6,754.4 H36.6"/>
<path d="M32.6,707.3 H36.6"/>
<path d="M32.6,660.2 H36.6"/>
<path d="M32.6,613.1 H36.6"/>
<path d="M66.5,810.3 V814.3"/>
<path d="M136.5,810.3 V814.3"/>
<path d="M206.5,810.3 V814.3"/>
</g>
<text x="29.5" y="804.7" font-size="9" text-anchor="end" fill="#333" textLength="5.3" lengthAdjust="spacingAndGlyphs" >0</text>
<text x="29.5" y="757.6" font-size="9" text-anchor="end" fill="#333" textLength="10.7" lengthAdjust="spacingAndGlyphs" >20</text>
<text x="29.5" y="710.5" font-size="9" text-anchor="end" fill="#333" textLength="10.7" lengthAdjust="spacingAndGlyphs" >40</text>
<text x="29.5" y="663.4" font-size="9" text-anchor="end" fill="#333" textLength="10.7" lengthAdjust="spacingAndGlyphs" >60</text>
<text x="29.5" y="616.3" font-size="9" text-anchor="end" fill="#333" textLength="10.7" lengthAdjust="spacingAndGlyphs" >80</text>
<text x="66.5" y="824.5" font-size="9" text-anchor="middle" fill="#333" textLength="16.0" lengthAdjust="spacingAndGlyphs" >400</text>
<text x="136.5" y="824.5" font-size="9" text-anchor="middle" fill="#333" textLength="16.0" lengthAdjust="spacingAndGlyphs" >800</text>
<text x="206.5" y="824.5" font-size="9" text-anchor="middle" fill="#333" textLength="22.7" lengthAdjust="spacingAndGlyphs" >1,200</text>
<path d="M46.2,734.2 L260,781.6" stroke="#111" stroke-width="1.3" fill="none"/>
<g fill="#d0161e">
<circle cx="126.5" cy="644" r="1.25"/>
<circle cx="57.5" cy="660.2" r="1.25"/>
<circle cx="97.2" cy="674" r="1.25"/>
<circle cx="128" cy="706.7" r="1.25"/>
<circle cx="128.5" cy="713" r="1.25"/>
<circle cx="130" cy="712.2" r="1.25"/>
<circle cx="150.1" cy="717" r="1.25"/>
<circle cx="169" cy="714.5" r="1.25"/>
<circle cx="99.7" cy="724.5" r="1.25"/>
<circle cx="112" cy="721.2" r="1.25"/>
<circle cx="135.7" cy="727.5" r="1.25"/>
<circle cx="136.7" cy="732.2" r="1.25"/>
<circle cx="168.5" cy="734" r="1.25"/>
<circle cx="58.2" cy="741.2" r="1.25"/>
<circle cx="112.2" cy="739.5" r="1.25"/>
<circle cx="124.2" cy="740.7" r="1.25"/>
<circle cx="123.2" cy="742.7" r="1.25"/>
<circle cx="121.7" cy="744" r="1.25"/>
<circle cx="126.7" cy="746.5" r="1.25"/>
<circle cx="133.6" cy="743.2" r="1.25"/>
<circle cx="150.3" cy="744.5" r="1.25"/>
<circle cx="151.2" cy="746.7" r="1.25"/>
<circle cx="98.2" cy="748.2" r="1.25"/>
<circle cx="100.7" cy="751.2" r="1.25"/>
<circle cx="103.2" cy="754" r="1.25"/>
<circle cx="106.7" cy="753.2" r="1.25"/>
<circle cx="111.5" cy="749.7" r="1.25"/>
<circle cx="118.2" cy="748.7" r="1.25"/>
<circle cx="140" cy="755.2" r="1.25"/>
<circle cx="107.5" cy="759.5" r="1.25"/>
<circle cx="115.2" cy="760.7" r="1.25"/>
<circle cx="83.5" cy="762.2" r="1.25"/>
<circle cx="76.5" cy="763.7" r="1.25"/>
<circle cx="74.7" cy="767.5" r="1.25"/>
<circle cx="110.7" cy="765.7" r="1.25"/>
<circle cx="114.2" cy="769.2" r="1.25"/>
<circle cx="111" cy="772.7" r="1.25"/>
<circle cx="133.8" cy="766" r="1.25"/>
<circle cx="145.7" cy="763.2" r="1.25"/>
<circle cx="48" cy="770.5" r="1.25"/>
<circle cx="46.2" cy="775" r="1.25"/>
<circle cx="79.5" cy="771.5" r="1.25"/>
<circle cx="150.7" cy="771.2" r="1.25"/>
<circle cx="155.5" cy="770.7" r="1.25"/>
<circle cx="74" cy="781.2" r="1.25"/>
<circle cx="71" cy="784.7" r="1.25"/>
<circle cx="96.5" cy="780.7" r="1.25"/>
<circle cx="97.5" cy="782" r="1.25"/>
<circle cx="114.7" cy="782" r="1.25"/>
<circle cx="116" cy="783" r="1.25"/>
<circle cx="150.6" cy="779.7" r="1.25"/>
<circle cx="170.2" cy="780.2" r="1.25"/>
<circle cx="131" cy="789.5" r="1.25"/>
<circle cx="152.2" cy="793.2" r="1.25"/>
<circle cx="164.5" cy="790.5" r="1.25"/>
<circle cx="85" cy="795.7" r="1.25"/>
<circle cx="97.5" cy="795.7" r="1.25"/>
<circle cx="138.7" cy="796" r="1.25"/>
<circle cx="115.5" cy="601.5" r="1.25"/>
<circle cx="79" cy="617.2" r="1.25"/>
<circle cx="178.5" cy="738" r="1.25"/>
<circle cx="182.7" cy="735.5" r="1.25"/>
<circle cx="191.7" cy="771.5" r="1.25"/>
<circle cx="173.5" cy="779.2" r="1.25"/>
<circle cx="174.7" cy="778.2" r="1.25"/>
<circle cx="204.7" cy="783.7" r="1.25"/>
<circle cx="186.2" cy="791.2" r="1.25"/>
<circle cx="190.5" cy="796" r="1.25"/>
<circle cx="201.5" cy="799" r="1.25"/>
<circle cx="260.2" cy="801.2" r="1.25"/>
</g>
<text x="44.5" y="611.2" font-size="9.3" fill="#222" textLength="78" lengthAdjust="spacingAndGlyphs"><tspan font-style="italic">R</tspan> = –0.22, <tspan font-style="italic">P</tspan> = 0.062</text>
<text transform="translate(8.6,701.3) rotate(-90)" font-size="11" text-anchor="middle" fill="#222" textLength="92.5" lengthAdjust="spacingAndGlyphs">PpIX intensity (a.u.)</text>
<text x="87.5" y="842" font-size="11" fill="#222" textLength="132" lengthAdjust="spacingAndGlyphs">Cell density (cells per mm<tspan font-size="7" dy="-3.6">2</tspan><tspan dy="3.6">)</tspan></text>
</g>
<g id="bars-density">
<text x="382.8" y="586.2" font-size="11" text-anchor="middle" fill="#222" textLength="56.5" lengthAdjust="spacingAndGlyphs" >Cell density</text>
<rect x="286.3" y="591.3" width="193.3" height="230.20000000000005" fill="#fff"/>
<g stroke="#ededed" stroke-width="0.7">
<path d="M286.3,593.24 H479.6"/>
<path d="M286.3,596.52 H479.6"/>
<path d="M286.3,599.80 H479.6"/>
<path d="M286.3,603.08 H479.6"/>
<path d="M286.3,606.36 H479.6"/>
<path d="M286.3,609.64 H479.6"/>
<path d="M286.3,612.92 H479.6"/>
<path d="M286.3,616.20 H479.6"/>
<path d="M286.3,619.48 H479.6"/>
<path d="M286.3,622.76 H479.6"/>
<path d="M286.3,626.04 H479.6"/>
<path d="M286.3,629.32 H479.6"/>
<path d="M286.3,632.60 H479.6"/>
<path d="M286.3,635.88 H479.6"/>
<path d="M286.3,639.16 H479.6"/>
<path d="M286.3,642.44 H479.6"/>
<path d="M286.3,645.72 H479.6"/>
<path d="M286.3,649.00 H479.6"/>
<path d="M286.3,652.28 H479.6"/>
<path d="M286.3,655.56 H479.6"/>
<path d="M286.3,658.84 H479.6"/>
<path d="M286.3,662.12 H479.6"/>
<path d="M286.3,665.40 H479.6"/>
<path d="M286.3,668.68 H479.6"/>
<path d="M286.3,671.96 H479.6"/>
<path d="M286.3,675.24 H479.6"/>
<path d="M286.3,678.52 H479.6"/>
<path d="M286.3,681.80 H479.6"/>
<path d="M286.3,685.08 H479.6"/>
<path d="M286.3,688.36 H479.6"/>
<path d="M286.3,691.64 H479.6"/>
<path d="M286.3,694.92 H479.6"/>
<path d="M286.3,698.20 H479.6"/>
<path d="M286.3,701.48 H479.6"/>
<path d="M286.3,704.76 H479.6"/>
<path d="M286.3,708.04 H479.6"/>
<path d="M286.3,711.32 H479.6"/>
<path d="M286.3,714.60 H479.6"/>
<path d="M286.3,717.88 H479.6"/>
<path d="M286.3,721.16 H479.6"/>
<path d="M286.3,724.44 H479.6"/>
<path d="M286.3,727.72 H479.6"/>
<path d="M286.3,731.00 H479.6"/>
<path d="M286.3,734.28 H479.6"/>
<path d="M286.3,737.56 H479.6"/>
<path d="M286.3,740.84 H479.6"/>
<path d="M286.3,744.12 H479.6"/>
<path d="M286.3,747.40 H479.6"/>
<path d="M286.3,750.68 H479.6"/>
<path d="M286.3,753.96 H479.6"/>
<path d="M286.3,757.24 H479.6"/>
<path d="M286.3,760.52 H479.6"/>
<path d="M286.3,763.80 H479.6"/>
<path d="M286.3,767.08 H479.6"/>
<path d="M286.3,770.36 H479.6"/>
<path d="M286.3,773.64 H479.6"/>
<path d="M286.3,776.92 H479.6"/>
<path d="M286.3,780.20 H479.6"/>
<path d="M286.3,783.48 H479.6"/>
<path d="M286.3,786.76 H479.6"/>
<path d="M286.3,790.04 H479.6"/>
<path d="M286.3,793.32 H479.6"/>
<path d="M286.3,796.60 H479.6"/>
<path d="M286.3,799.88 H479.6"/>
<path d="M286.3,803.16 H479.6"/>
<path d="M286.3,806.44 H479.6"/>
<path d="M286.3,809.72 H479.6"/>
<path d="M286.3,813.00 H479.6"/>
<path d="M286.3,816.28 H479.6"/>
<path d="M286.3,819.56 H479.6"/>
</g><g stroke="#f3f3f3" stroke-width="0.5">
<path d="M441.4,591.3 V821.5"/>
<path d="M383.1,591.3 V821.5"/>
<path d="M324.7,591.3 V821.5"/>
</g><g stroke="#ebebeb" stroke-width="0.8">
<path d="M470.6,591.3 V821.5"/>
<path d="M412.2,591.3 V821.5"/>
<path d="M353.9,591.3 V821.5"/>
<path d="M295.6,591.3 V821.5"/>
</g>
<rect x="294.7" y="591.70" width="175.9" height="3.08" fill="#e00606"/>
<rect x="331.8" y="594.98" width="138.8" height="3.08" fill="#ff432f"/>
<rect x="333.9" y="598.26" width="136.7" height="3.08" fill="#ff4431"/>
<rect x="340.4" y="601.54" width="130.2" height="3.08" fill="#ff4936"/>
<rect x="341.2" y="604.82" width="129.4" height="3.08" fill="#ff4936"/>
<rect x="344.1" y="608.10" width="126.5" height="3.08" fill="#ff4b38"/>
<rect x="346.4" y="611.38" width="124.2" height="3.08" fill="#ff4d3a"/>
<rect x="349.2" y="614.66" width="121.4" height="3.08" fill="#ff4e3c"/>
<rect x="351.8" y="617.94" width="118.8" height="3.08" fill="#ff503e"/>
<rect x="352.6" y="621.22" width="118.0" height="3.08" fill="#ff513f"/>
<rect x="354.8" y="624.50" width="115.8" height="3.08" fill="#ff5241"/>
<rect x="355.6" y="627.78" width="115.0" height="3.08" fill="#ff5341"/>
<rect x="355.9" y="631.06" width="114.7" height="3.08" fill="#ff5341"/>
<rect x="358.6" y="634.34" width="112.0" height="3.08" fill="#ff5543"/>
<rect x="364.6" y="637.62" width="106.0" height="3.08" fill="#ff5948"/>
<rect x="366.8" y="640.90" width="103.8" height="3.08" fill="#ff5a4a"/>
<rect x="367.4" y="644.18" width="103.2" height="3.08" fill="#ff5b4a"/>
<rect x="367.8" y="647.46" width="102.8" height="3.08" fill="#ff5b4a"/>
<rect x="367.8" y="650.74" width="102.8" height="3.08" fill="#ff5b4a"/>
<rect x="368.0" y="654.02" width="102.6" height="3.08" fill="#ff5b4b"/>
<rect x="368.2" y="657.30" width="102.4" height="3.08" fill="#ff5b4b"/>
<rect x="371.1" y="660.58" width="99.5" height="3.08" fill="#ff5d4d"/>
<rect x="374.9" y="663.86" width="95.7" height="3.08" fill="#ff6050"/>
<rect x="375.8" y="667.14" width="94.8" height="3.08" fill="#ff6050"/>
<rect x="377.1" y="670.42" width="93.5" height="3.08" fill="#ff6151"/>
<rect x="377.8" y="673.70" width="92.8" height="3.08" fill="#ff6152"/>
<rect x="379.0" y="676.98" width="91.6" height="3.08" fill="#ff6253"/>
<rect x="379.2" y="680.26" width="91.4" height="3.08" fill="#ff6253"/>
<rect x="380.9" y="683.54" width="89.7" height="3.08" fill="#ff6454"/>
<rect x="381.6" y="686.82" width="89.0" height="3.08" fill="#ff6455"/>
<rect x="382.6" y="690.10" width="88.0" height="3.08" fill="#ff6556"/>
<rect x="382.9" y="693.38" width="87.7" height="3.08" fill="#ff6556"/>
<rect x="383.8" y="696.66" width="86.8" height="3.08" fill="#ff6556"/>
<rect x="383.9" y="699.94" width="86.7" height="3.08" fill="#ff6657"/>
<rect x="385.4" y="703.22" width="85.2" height="3.08" fill="#ff6758"/>
<rect x="386.1" y="706.50" width="84.5" height="3.08" fill="#ff6758"/>
<rect x="387.1" y="709.78" width="83.5" height="3.08" fill="#ff6859"/>
<rect x="389.4" y="713.06" width="81.2" height="3.08" fill="#ff695b"/>
<rect x="390.9" y="716.34" width="79.7" height="3.08" fill="#ff6a5c"/>
<rect x="391.2" y="719.62" width="79.4" height="3.08" fill="#ff6a5c"/>
<rect x="391.4" y="722.90" width="79.2" height="3.08" fill="#ff6b5c"/>
<rect x="391.8" y="726.18" width="78.8" height="3.08" fill="#ff6b5c"/>
<rect x="392.1" y="729.46" width="78.5" height="3.08" fill="#ff6b5d"/>
<rect x="393.4" y="732.74" width="77.2" height="3.08" fill="#ff6c5e"/>
<rect x="393.6" y="736.02" width="77.0" height="3.08" fill="#ff6c5e"/>
<rect x="393.9" y="739.30" width="76.7" height="3.08" fill="#ff6c5e"/>
<rect x="394.2" y="742.58" width="76.4" height="3.08" fill="#ff6c5e"/>
<rect x="394.4" y="745.86" width="76.2" height="3.08" fill="#ff6d5e"/>
<rect x="396.6" y="749.14" width="74.0" height="3.08" fill="#ff6e60"/>
<rect x="397.1" y="752.42" width="73.5" height="3.08" fill="#ff6e61"/>
<rect x="399.4" y="755.70" width="71.2" height="3.08" fill="#ff7062"/>
<rect x="401.1" y="758.98" width="69.5" height="3.08" fill="#ff7164"/>
<rect x="401.8" y="762.26" width="68.8" height="3.08" fill="#ff7264"/>
<rect x="402.8" y="765.54" width="67.8" height="3.08" fill="#ff7265"/>
<rect x="403.2" y="768.82" width="67.4" height="3.08" fill="#ff7265"/>
<rect x="403.2" y="772.10" width="67.4" height="3.08" fill="#ff7265"/>
<rect x="403.4" y="775.38" width="67.2" height="3.08" fill="#ff7365"/>
<rect x="403.9" y="778.66" width="66.7" height="3.08" fill="#ff7366"/>
<rect x="411.6" y="781.94" width="59.0" height="3.08" fill="#ff786b"/>
<rect x="412.6" y="785.22" width="58.0" height="3.08" fill="#ff796c"/>
<rect x="415.3" y="788.50" width="55.3" height="3.08" fill="#ff7b6e"/>
<rect x="415.6" y="791.78" width="55.0" height="3.08" fill="#ff7b6e"/>
<rect x="417.3" y="795.06" width="53.3" height="3.08" fill="#ff7c70"/>
<rect x="418.5" y="798.34" width="52.1" height="3.08" fill="#ff7d71"/>
<rect x="418.9" y="801.62" width="51.7" height="3.08" fill="#ff7d71"/>
<rect x="420.9" y="804.90" width="49.7" height="3.08" fill="#ff7e73"/>
<rect x="429.5" y="808.18" width="41.1" height="3.08" fill="#ff8479"/>
<rect x="429.9" y="811.46" width="40.7" height="3.08" fill="#ff8479"/>
<rect x="436.3" y="814.74" width="34.3" height="3.08" fill="#ff897e"/>
<rect x="437.5" y="818.02" width="33.1" height="3.08" fill="#ff897f"/>
<rect x="286.3" y="591.3" width="193.3" height="230.20000000000005" fill="none" stroke="#8a8a8a" stroke-width="0.8"/>
<path d="M286.3,591.3 V821.5 H479.6" fill="none" stroke="#4a4a4a" stroke-width="0.9"/>
<g stroke="#4d4d4d" stroke-width="0.8">
<path d="M470.6,821.5 V825.1"/>
<path d="M412.2,821.5 V825.1"/>
<path d="M353.9,821.5 V825.1"/>
<path d="M295.6,821.5 V825.1"/>
</g>
<text x="470.1" y="835.8" font-size="9" text-anchor="middle" fill="#333" textLength="5.3" lengthAdjust="spacingAndGlyphs" >0</text>
<text x="411.8" y="835.8" font-size="9" text-anchor="middle" fill="#333" textLength="16.0" lengthAdjust="spacingAndGlyphs" >500</text>
<text x="353.4" y="835.8" font-size="9" text-anchor="middle" fill="#333" textLength="22.7" lengthAdjust="spacingAndGlyphs" >1,000</text>
<text x="295.1" y="835.8" font-size="9" text-anchor="middle" fill="#333" textLength="22.7" lengthAdjust="spacingAndGlyphs" >1,500</text>
</g>
<g id="bars-ppix">
<text x="592" y="586" font-size="11" text-anchor="middle" fill="#222" textLength="65.3" lengthAdjust="spacingAndGlyphs" >PpIX intensity</text>
<text transform="translate(493.6,707) rotate(-90)" font-size="11" text-anchor="middle" fill="#222" textLength="32">Patient</text>
<rect x="499.7" y="591.3" width="184.7" height="230.20000000000005" fill="#fff"/>
<g stroke="#ededed" stroke-width="0.7">
<path d="M499.7,593.24 H684.4"/>
<path d="M499.7,596.52 H684.4"/>
<path d="M499.7,599.80 H684.4"/>
<path d="M499.7,603.08 H684.4"/>
<path d="M499.7,606.36 H684.4"/>
<path d="M499.7,609.64 H684.4"/>
<path d="M499.7,612.92 H684.4"/>
<path d="M499.7,616.20 H684.4"/>
<path d="M499.7,619.48 H684.4"/>
<path d="M499.7,622.76 H684.4"/>
<path d="M499.7,626.04 H684.4"/>
<path d="M499.7,629.32 H684.4"/>
<path d="M499.7,632.60 H684.4"/>
<path d="M499.7,635.88 H684.4"/>
<path d="M499.7,639.16 H684.4"/>
<path d="M499.7,642.44 H684.4"/>
<path d="M499.7,645.72 H684.4"/>
<path d="M499.7,649.00 H684.4"/>
<path d="M499.7,652.28 H684.4"/>
<path d="M499.7,655.56 H684.4"/>
<path d="M499.7,658.84 H684.4"/>
<path d="M499.7,662.12 H684.4"/>
<path d="M499.7,665.40 H684.4"/>
<path d="M499.7,668.68 H684.4"/>
<path d="M499.7,671.96 H684.4"/>
<path d="M499.7,675.24 H684.4"/>
<path d="M499.7,678.52 H684.4"/>
<path d="M499.7,681.80 H684.4"/>
<path d="M499.7,685.08 H684.4"/>
<path d="M499.7,688.36 H684.4"/>
<path d="M499.7,691.64 H684.4"/>
<path d="M499.7,694.92 H684.4"/>
<path d="M499.7,698.20 H684.4"/>
<path d="M499.7,701.48 H684.4"/>
<path d="M499.7,704.76 H684.4"/>
<path d="M499.7,708.04 H684.4"/>
<path d="M499.7,711.32 H684.4"/>
<path d="M499.7,714.60 H684.4"/>
<path d="M499.7,717.88 H684.4"/>
<path d="M499.7,721.16 H684.4"/>
<path d="M499.7,724.44 H684.4"/>
<path d="M499.7,727.72 H684.4"/>
<path d="M499.7,731.00 H684.4"/>
<path d="M499.7,734.28 H684.4"/>
<path d="M499.7,737.56 H684.4"/>
<path d="M499.7,740.84 H684.4"/>
<path d="M499.7,744.12 H684.4"/>
<path d="M499.7,747.40 H684.4"/>
<path d="M499.7,750.68 H684.4"/>
<path d="M499.7,753.96 H684.4"/>
<path d="M499.7,757.24 H684.4"/>
<path d="M499.7,760.52 H684.4"/>
<path d="M499.7,763.80 H684.4"/>
<path d="M499.7,767.08 H684.4"/>
<path d="M499.7,770.36 H684.4"/>
<path d="M499.7,773.64 H684.4"/>
<path d="M499.7,776.92 H684.4"/>
<path d="M499.7,780.20 H684.4"/>
<path d="M499.7,783.48 H684.4"/>
<path d="M499.7,786.76 H684.4"/>
<path d="M499.7,790.04 H684.4"/>
<path d="M499.7,793.32 H684.4"/>
<path d="M499.7,796.60 H684.4"/>
<path d="M499.7,799.88 H684.4"/>
<path d="M499.7,803.16 H684.4"/>
<path d="M499.7,806.44 H684.4"/>
<path d="M499.7,809.72 H684.4"/>
<path d="M499.7,813.00 H684.4"/>
<path d="M499.7,816.28 H684.4"/>
<path d="M499.7,819.56 H684.4"/>
</g><g stroke="#f3f3f3" stroke-width="0.5">
<path d="M527.0,591.3 V821.5"/>
<path d="M566.9,591.3 V821.5"/>
<path d="M606.9,591.3 V821.5"/>
<path d="M646.8,591.3 V821.5"/>
</g><g stroke="#ebebeb" stroke-width="0.8">
<path d="M507.0,591.3 V821.5"/>
<path d="M546.9,591.3 V821.5"/>
<path d="M586.9,591.3 V821.5"/>
<path d="M626.8,591.3 V821.5"/>
<path d="M666.8,591.3 V821.5"/>
</g>
<rect x="507" y="591.70" width="0.3" height="3.08" fill="#ff877d"/>
<rect x="507" y="594.98" width="15.1" height="3.08" fill="#ff7f74"/>
<rect x="507" y="598.26" width="2.1" height="3.08" fill="#ff867c"/>
<rect x="507" y="601.54" width="25.4" height="3.08" fill="#ff796e"/>
<rect x="507" y="604.82" width="4.7" height="3.08" fill="#ff847a"/>
<rect x="507" y="608.10" width="8.7" height="3.08" fill="#ff8278"/>
<rect x="507" y="611.38" width="56.0" height="3.08" fill="#ff695b"/>
<rect x="507" y="614.66" width="53.8" height="3.08" fill="#ff6a5c"/>
<rect x="507" y="617.94" width="19.8" height="3.08" fill="#ff7c71"/>
<rect x="507" y="621.22" width="18.9" height="3.08" fill="#ff7d72"/>
<rect x="507" y="624.50" width="18.1" height="3.08" fill="#ff7d72"/>
<rect x="507" y="627.78" width="73.8" height="3.08" fill="#ff5f50"/>
<rect x="507" y="631.06" width="57.2" height="3.08" fill="#ff685a"/>
<rect x="507" y="634.34" width="9.3" height="3.08" fill="#ff8277"/>
<rect x="507" y="637.62" width="26.1" height="3.08" fill="#ff796d"/>
<rect x="507" y="640.90" width="7.0" height="3.08" fill="#ff8379"/>
<rect x="507" y="644.18" width="46.5" height="3.08" fill="#ff6e61"/>
<rect x="507" y="647.46" width="25.7" height="3.08" fill="#ff796d"/>
<rect x="507" y="650.74" width="18.5" height="3.08" fill="#ff7d72"/>
<rect x="507" y="654.02" width="48.3" height="3.08" fill="#ff6d60"/>
<rect x="507" y="657.30" width="71.7" height="3.08" fill="#ff6052"/>
<rect x="507" y="660.58" width="32.5" height="3.08" fill="#ff7569"/>
<rect x="507" y="663.86" width="39.3" height="3.08" fill="#ff7265"/>
<rect x="507" y="667.14" width="4.7" height="3.08" fill="#ff847a"/>
<rect x="507" y="670.42" width="58.8" height="3.08" fill="#ff6759"/>
<rect x="507" y="673.70" width="62.8" height="3.08" fill="#ff6557"/>
<rect x="507" y="676.98" width="30.1" height="3.08" fill="#ff776b"/>
<rect x="507" y="680.26" width="49.4" height="3.08" fill="#ff6c5f"/>
<rect x="507" y="683.54" width="10.2" height="3.08" fill="#ff8177"/>
<rect x="507" y="686.82" width="75.7" height="3.08" fill="#ff5e4f"/>
<rect x="507" y="690.10" width="75.0" height="3.08" fill="#ff5e50"/>
<rect x="507" y="693.38" width="80.4" height="3.08" fill="#ff5b4c"/>
<rect x="507" y="696.66" width="46.6" height="3.08" fill="#ff6e61"/>
<rect x="507" y="699.94" width="133.6" height="3.08" fill="#fb392a"/>
<rect x="507" y="703.22" width="51.6" height="3.08" fill="#ff6b5e"/>
<rect x="507" y="706.50" width="49.9" height="3.08" fill="#ff6c5f"/>
<rect x="507" y="709.78" width="48.8" height="3.08" fill="#ff6d60"/>
<rect x="507" y="713.06" width="44.8" height="3.08" fill="#ff6f62"/>
<rect x="507" y="716.34" width="15.7" height="3.08" fill="#ff7e74"/>
<rect x="507" y="719.62" width="169.6" height="3.08" fill="#e20606"/>
<rect x="507" y="722.90" width="34.6" height="3.08" fill="#ff7468"/>
<rect x="507" y="726.18" width="16.5" height="3.08" fill="#ff7e73"/>
<rect x="507" y="729.46" width="27.4" height="3.08" fill="#ff786c"/>
<rect x="507" y="732.74" width="52.6" height="3.08" fill="#ff6b5d"/>
<rect x="507" y="736.02" width="68.1" height="3.08" fill="#ff6254"/>
<rect x="507" y="739.30" width="43.9" height="3.08" fill="#ff6f62"/>
<rect x="507" y="742.58" width="24.4" height="3.08" fill="#ff7a6e"/>
<rect x="507" y="745.86" width="30.4" height="3.08" fill="#ff776b"/>
<rect x="507" y="749.14" width="35.6" height="3.08" fill="#ff7467"/>
<rect x="507" y="752.42" width="41.0" height="3.08" fill="#ff7164"/>
<rect x="507" y="755.70" width="40.3" height="3.08" fill="#ff7165"/>
<rect x="507" y="758.98" width="42.7" height="3.08" fill="#ff7063"/>
<rect x="507" y="762.26" width="65.3" height="3.08" fill="#ff6456"/>
<rect x="507" y="765.54" width="45.2" height="3.08" fill="#ff6f62"/>
<rect x="507" y="768.82" width="16.5" height="3.08" fill="#ff7e73"/>
<rect x="507" y="772.10" width="4.9" height="3.08" fill="#ff847a"/>
<rect x="507" y="775.38" width="108.1" height="3.08" fill="#ff4c3c"/>
<rect x="507" y="778.66" width="17.6" height="3.08" fill="#ff7d72"/>
<rect x="507" y="781.94" width="4.9" height="3.08" fill="#ff847a"/>
<rect x="507" y="785.22" width="33.3" height="3.08" fill="#ff7569"/>
<rect x="507" y="788.50" width="25.4" height="3.08" fill="#ff796e"/>
<rect x="507" y="791.78" width="156.3" height="3.08" fill="#eb1913"/>
<rect x="507" y="795.06" width="32.1" height="3.08" fill="#ff766a"/>
<rect x="507" y="798.34" width="28.8" height="3.08" fill="#ff776c"/>
<rect x="507" y="801.62" width="17.2" height="3.08" fill="#ff7e73"/>
<rect x="507" y="804.90" width="14.2" height="3.08" fill="#ff7f74"/>
<rect x="507" y="808.18" width="51.1" height="3.08" fill="#ff6b5e"/>
<rect x="507" y="811.46" width="119.8" height="3.08" fill="#ff4635"/>
<rect x="507" y="814.74" width="26.3" height="3.08" fill="#ff796d"/>
<rect x="507" y="818.02" width="22.5" height="3.08" fill="#ff7b6f"/>
<rect x="499.7" y="591.3" width="184.7" height="230.20000000000005" fill="none" stroke="#8a8a8a" stroke-width="0.8"/>
<path d="M499.7,591.3 V821.5 H684.4" fill="none" stroke="#4a4a4a" stroke-width="0.9"/>
<g stroke="#4d4d4d" stroke-width="0.8">
<path d="M507.0,821.5 V825.1"/>
<path d="M546.9,821.5 V825.1"/>
<path d="M586.9,821.5 V825.1"/>
<path d="M626.8,821.5 V825.1"/>
<path d="M666.8,821.5 V825.1"/>
</g>
<text x="507.0" y="835.8" font-size="9" text-anchor="middle" fill="#333" textLength="5.3" lengthAdjust="spacingAndGlyphs" >0</text>
<text x="546.9" y="835.8" font-size="9" text-anchor="middle" fill="#333" textLength="10.7" lengthAdjust="spacingAndGlyphs" >20</text>
<text x="586.9" y="835.8" font-size="9" text-anchor="middle" fill="#333" textLength="10.7" lengthAdjust="spacingAndGlyphs" >40</text>
<text x="626.8" y="835.8" font-size="9" text-anchor="middle" fill="#333" textLength="10.7" lengthAdjust="spacingAndGlyphs" >60</text>
<text x="666.8" y="835.8" font-size="9" text-anchor="middle" fill="#333" textLength="10.7" lengthAdjust="spacingAndGlyphs" >80</text>
</g>
<g id="watermark" opacity="0.56">
<ellipse cx="492.3" cy="816.2" rx="9.3" ry="8" fill="#9a9a9a"/><path d="M486,822 l-1.5,4.5 l5,-2.5z" fill="#9a9a9a"/>
<ellipse cx="499.8" cy="821.4" rx="7.6" ry="6.6" fill="#a8a8a8" stroke="#fff" stroke-width="0.9"/><path d="M504,826.5 l2.2,3 l-4.5,-1.4z" fill="#a8a8a8"/>
<circle cx="489" cy="814" r="1.1" fill="#fff"/><circle cx="495.5" cy="814" r="1.1" fill="#fff"/><circle cx="497.2" cy="820" r="0.9" fill="#fff"/><circle cx="502.4" cy="820" r="0.9" fill="#fff"/>
<text x="514.5" y="824.5" font-size="17" fill="#8c8c8c" textLength="150" lengthAdjust="spacingAndGlyphs">公众号 · 科研趣味</text>
<text x="666" y="824.5" font-size="12" fill="#9a9a9a">,</text>
</g>
</svg>
</body></html>
